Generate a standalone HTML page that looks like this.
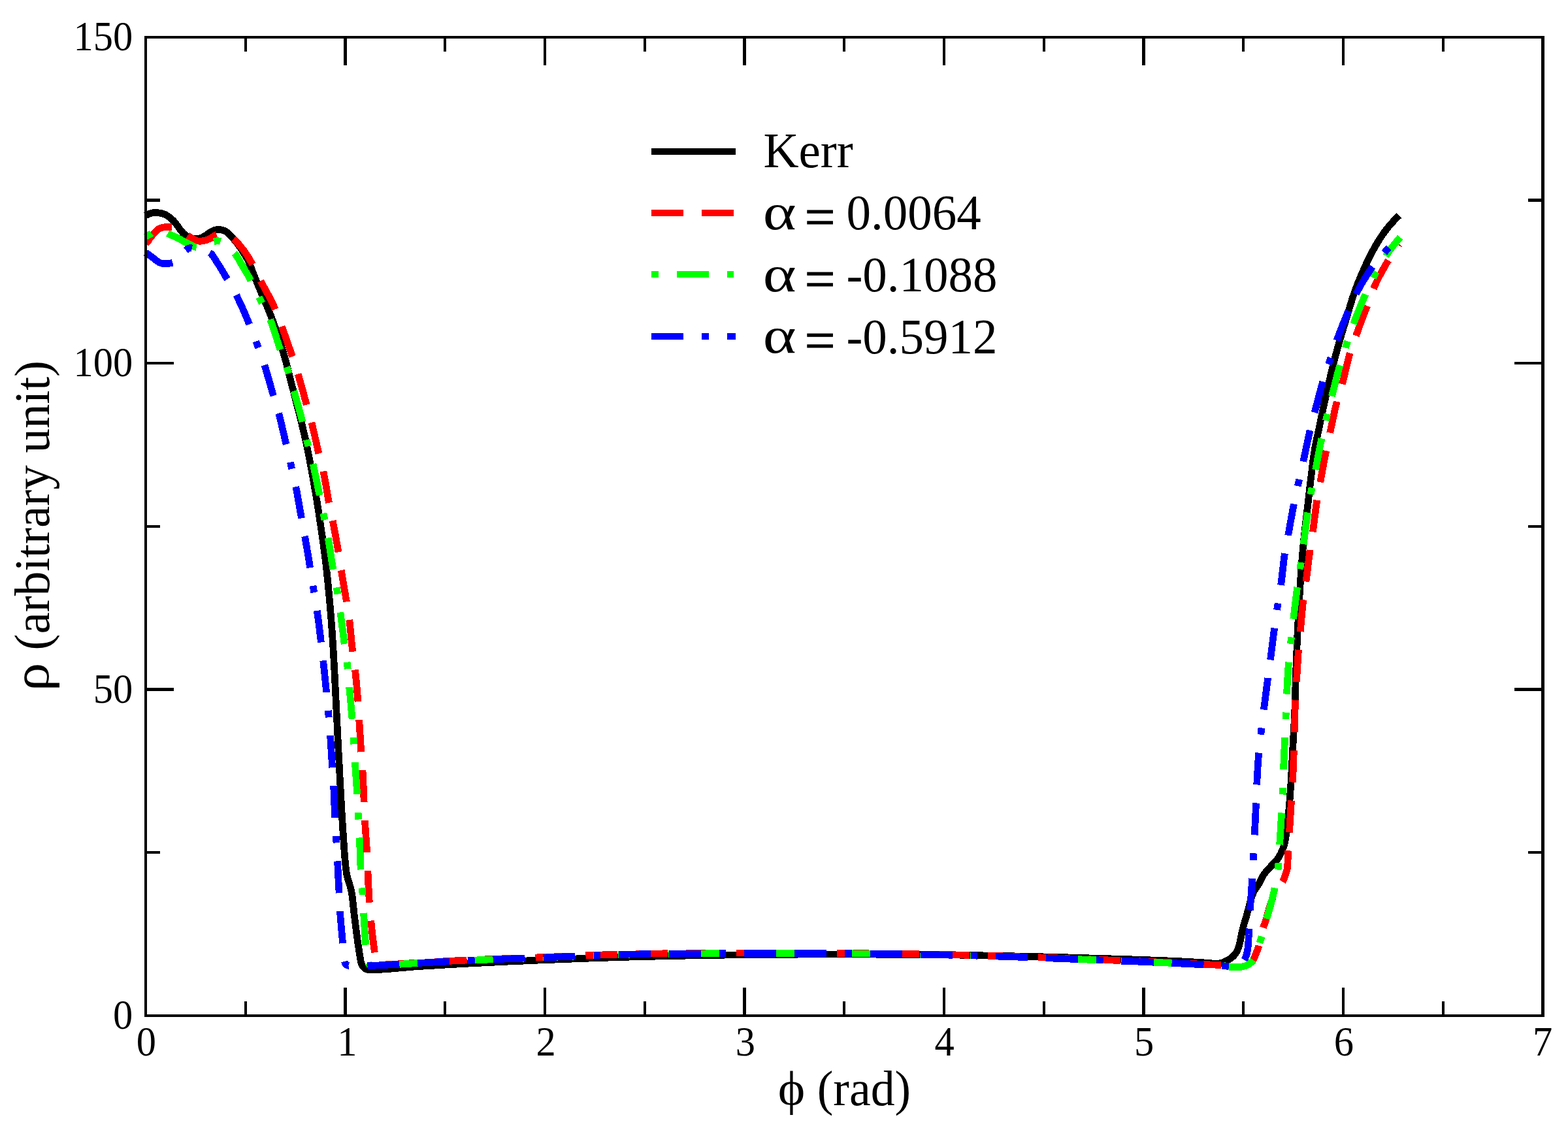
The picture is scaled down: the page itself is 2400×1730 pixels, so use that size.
<!DOCTYPE html>
<html lang="en">
<head>
<meta charset="utf-8">
<title>rho vs phi</title>
<style>
html,body{margin:0;padding:0;background:#fff;}
body{width:2400px;height:1730px;overflow:hidden;font-family:"Liberation Serif",serif;}
svg{display:block;}
</style>
</head>
<body>
<svg width="2400" height="1730" viewBox="0 0 2400 1730" role="img" aria-label="rho versus phi line chart">
<rect x="0" y="0" width="2400" height="1730" fill="#fff"/>
<g fill="none" stroke-linejoin="round" stroke-linecap="butt" shape-rendering="crispEdges" stroke-width="10.7">
<path d="M223.0,330.0 L224.7,329.0 L226.5,328.1 L228.4,327.3 L230.3,326.7 L232.2,326.2 L234.2,325.8 L236.2,325.5 L238.2,325.4 L240.2,325.5 L242.2,325.7 L244.2,326.1 L246.1,326.4 L248.1,326.9 L250.0,327.5 L251.9,328.2 L253.7,329.0 L255.4,329.9 L257.1,331.0 L258.8,332.2 L260.4,333.3 L261.9,334.6 L263.4,336.0 L264.9,337.4 L266.2,338.8 L267.5,340.3 L268.8,341.9 L270.0,343.5 L271.2,345.1 L272.4,346.7 L273.6,348.4 L274.7,350.0 L275.8,351.7 L277.1,353.2 L278.4,354.7 L279.7,356.2 L281.1,357.7 L282.6,359.1 L284.1,360.4 L285.7,361.5 L287.4,362.6 L289.2,363.6 L291.1,364.4 L293.0,364.9 L294.9,365.2 L296.9,365.5 L298.9,365.7 L300.9,365.8 L302.9,365.7 L304.9,365.2 L306.8,364.6 L308.7,363.9 L310.5,363.1 L312.2,362.1 L314.0,361.0 L315.7,360.0 L317.3,358.8 L318.9,357.6 L320.5,356.4 L322.2,355.4 L324.0,354.4 L325.8,353.5 L327.6,352.7 L329.5,352.2 L331.5,351.7 L333.5,351.4 L335.5,351.5 L337.5,351.7 L339.4,352.1 L341.3,352.6 L343.2,353.3 L345.1,354.2 L346.8,355.2 L348.4,356.4 L349.8,357.7 L351.2,359.2 L352.6,360.7 L354.0,362.2 L355.4,363.6 L356.8,365.0 L358.1,366.5 L359.4,368.0 L360.7,369.6 L361.9,371.1 L363.2,372.7 L364.4,374.3 L365.5,375.9 L366.7,377.6 L367.8,379.2 L369.0,380.9 L370.1,382.5 L371.1,384.2 L372.2,385.9 L373.3,387.6 L374.3,389.3 L375.4,391.0 L376.4,392.7 L377.4,394.5 L378.4,396.2 L379.3,398.0 L380.2,399.8 L381.0,401.6 L381.8,403.4 L382.6,405.3 L383.3,407.1 L384.0,409.0 L384.7,410.9 L385.4,412.8 L386.2,414.6 L386.9,416.5 L387.6,418.4 L388.4,420.2 L389.1,422.1 L389.9,423.9 L390.6,425.8 L391.3,427.6 L392.1,429.5 L392.9,431.4 L393.6,433.2 L394.4,435.0 L395.2,436.9 L395.9,438.7 L396.7,440.6 L397.5,442.4 L398.3,444.3 L399.1,446.1 L399.8,448.0 L400.6,449.8 L401.4,451.6 L402.2,453.5 L402.9,455.3 L403.7,457.2 L404.5,459.0 L405.3,460.9 L406.1,462.7 L406.8,464.5 L407.6,466.4 L408.4,468.2 L409.2,470.1 L409.9,471.9 L410.7,473.8 L411.5,475.6 L412.2,477.5 L412.9,479.3 L413.7,481.2 L414.4,483.1 L415.1,484.9 L415.8,486.8 L416.5,488.7 L417.2,490.5 L417.9,492.4 L418.6,494.3 L419.3,496.2 L420.0,498.1 L420.7,499.9 L421.4,501.8 L422.0,503.7 L422.7,505.6 L423.3,507.5 L424.0,509.4 L424.6,511.3 L425.3,513.2 L425.9,515.1 L426.5,517.0 L427.2,518.9 L427.8,520.8 L428.4,522.7 L429.0,524.6 L429.6,526.5 L430.2,528.4 L430.8,530.3 L431.4,532.2 L432.0,534.1 L432.5,536.1 L433.1,538.0 L433.7,539.9 L434.2,541.8 L434.8,543.7 L435.3,545.7 L435.9,547.6 L436.4,549.5 L436.9,551.4 L437.5,553.4 L438.0,555.3 L438.5,557.2 L439.0,559.2 L439.5,561.1 L440.0,563.0 L440.5,565.0 L441.0,566.9 L441.5,568.9 L442.0,570.8 L442.5,572.7 L443.0,574.7 L443.5,576.6 L443.9,578.6 L444.4,580.5 L444.9,582.4 L445.4,584.4 L445.9,586.3 L446.4,588.2 L446.9,590.2 L447.4,592.1 L447.9,594.1 L448.4,596.0 L448.9,597.9 L449.4,599.9 L449.9,601.8 L450.4,603.7 L450.9,605.7 L451.4,607.6 L451.9,609.6 L452.4,611.5 L452.9,613.4 L453.4,615.4 L453.9,617.3 L454.4,619.2 L454.9,621.2 L455.4,623.1 L455.9,625.1 L456.4,627.0 L456.9,628.9 L457.4,630.9 L457.9,632.8 L458.4,634.8 L458.9,636.7 L459.4,638.6 L459.8,640.6 L460.3,642.5 L460.8,644.5 L461.3,646.4 L461.8,648.3 L462.2,650.3 L462.7,652.2 L463.2,654.2 L463.6,656.1 L464.1,658.1 L464.6,660.0 L465.0,662.0 L465.5,663.9 L465.9,665.9 L466.4,667.8 L466.8,669.8 L467.3,671.7 L467.7,673.7 L468.1,675.6 L468.6,677.6 L469.0,679.5 L469.4,681.5 L469.8,683.4 L470.2,685.4 L470.6,687.4 L471.0,689.3 L471.4,691.3 L471.8,693.2 L472.1,695.2 L472.5,697.2 L472.9,699.1 L473.3,701.1 L473.7,703.1 L474.1,705.0 L474.4,707.0 L474.8,709.0 L475.2,710.9 L475.6,712.9 L475.9,714.9 L476.3,716.8 L476.7,718.8 L477.0,720.8 L477.4,722.7 L477.7,724.7 L478.1,726.7 L478.5,728.6 L478.8,730.6 L479.2,732.6 L479.5,734.5 L479.9,736.5 L480.2,738.5 L480.6,740.5 L480.9,742.4 L481.2,744.4 L481.6,746.4 L481.9,748.4 L482.3,750.3 L482.6,752.3 L482.9,754.3 L483.2,756.2 L483.6,758.2 L483.9,760.2 L484.2,762.2 L484.5,764.1 L484.9,766.1 L485.2,768.1 L485.5,770.1 L485.8,772.0 L486.1,774.0 L486.4,776.0 L486.7,778.0 L487.0,779.9 L487.4,781.9 L487.7,783.9 L488.0,785.9 L488.3,787.9 L488.6,789.8 L488.9,791.8 L489.2,793.8 L489.5,795.8 L489.8,797.7 L490.1,799.7 L490.4,801.7 L490.7,803.7 L491.0,805.7 L491.2,807.6 L491.5,809.6 L491.8,811.6 L492.1,813.6 L492.4,815.6 L492.7,817.5 L493.0,819.5 L493.3,821.5 L493.5,823.5 L493.8,825.5 L494.1,827.5 L494.4,829.4 L494.7,831.4 L494.9,833.4 L495.2,835.4 L495.5,837.4 L495.7,839.3 L496.0,841.3 L496.3,843.3 L496.5,845.3 L496.8,847.3 L497.0,849.3 L497.3,851.3 L497.5,853.2 L497.8,855.2 L498.0,857.2 L498.3,859.2 L498.5,861.2 L498.8,863.2 L499.0,865.2 L499.2,867.1 L499.4,869.1 L499.7,871.1 L499.9,873.1 L500.1,875.1 L500.3,877.1 L500.5,879.1 L500.7,881.1 L501.0,883.0 L501.2,885.0 L501.4,887.0 L501.6,889.0 L501.8,891.0 L502.0,893.0 L502.2,895.0 L502.4,897.0 L502.6,899.0 L502.7,901.0 L502.9,902.9 L503.1,904.9 L503.3,906.9 L503.5,908.9 L503.7,910.9 L503.9,912.9 L504.1,914.9 L504.2,916.9 L504.4,918.9 L504.6,920.9 L504.8,922.9 L504.9,924.9 L505.1,926.9 L505.3,928.8 L505.5,930.8 L505.6,932.8 L505.8,934.8 L506.0,936.8 L506.1,938.8 L506.3,940.8 L506.5,942.8 L506.6,944.8 L506.8,946.8 L506.9,948.8 L507.1,950.8 L507.2,952.8 L507.4,954.8 L507.5,956.8 L507.7,958.8 L507.8,960.8 L508.0,962.8 L508.1,964.8 L508.3,966.8 L508.4,968.8 L508.6,970.7 L508.7,972.7 L508.8,974.7 L509.0,976.7 L509.1,978.7 L509.2,980.7 L509.4,982.7 L509.5,984.7 L509.6,986.7 L509.7,988.7 L509.9,990.7 L510.0,992.7 L510.1,994.7 L510.2,996.7 L510.3,998.7 L510.5,1000.7 L510.6,1002.7 L510.7,1004.7 L510.8,1006.7 L510.9,1008.7 L511.0,1010.7 L511.1,1012.7 L511.2,1014.7 L511.3,1016.7 L511.5,1018.7 L511.6,1020.7 L511.7,1022.7 L511.8,1024.7 L511.9,1026.7 L512.0,1028.7 L512.1,1030.7 L512.2,1032.7 L512.3,1034.7 L512.4,1036.7 L512.5,1038.6 L512.6,1040.6 L512.7,1042.6 L512.8,1044.6 L512.9,1046.6 L513.0,1048.6 L513.1,1050.6 L513.2,1052.6 L513.3,1054.6 L513.4,1056.6 L513.5,1058.6 L513.6,1060.6 L513.7,1062.6 L513.8,1064.6 L513.9,1066.6 L514.0,1068.6 L514.1,1070.6 L514.2,1072.6 L514.3,1074.6 L514.4,1076.6 L514.5,1078.6 L514.6,1080.6 L514.7,1082.6 L514.8,1084.6 L514.9,1086.6 L515.0,1088.6 L515.1,1090.6 L515.2,1092.6 L515.3,1094.6 L515.4,1096.6 L515.5,1098.6 L515.6,1100.6 L515.7,1102.6 L515.8,1104.6 L515.9,1106.6 L516.0,1108.6 L516.1,1110.6 L516.2,1112.6 L516.3,1114.6 L516.4,1116.6 L516.5,1118.6 L516.6,1120.6 L516.7,1122.6 L516.8,1124.6 L516.9,1126.6 L517.0,1128.6 L517.1,1130.6 L517.2,1132.6 L517.3,1134.6 L517.4,1136.6 L517.5,1138.6 L517.6,1140.6 L517.7,1142.6 L517.8,1144.6 L517.9,1146.6 L518.0,1148.5 L518.1,1150.5 L518.2,1152.5 L518.3,1154.5 L518.4,1156.5 L518.6,1158.5 L518.7,1160.5 L518.8,1162.5 L518.9,1164.5 L519.0,1166.5 L519.1,1168.5 L519.2,1170.5 L519.3,1172.5 L519.4,1174.5 L519.5,1176.5 L519.6,1178.5 L519.7,1180.5 L519.8,1182.5 L519.9,1184.5 L520.0,1186.5 L520.1,1188.5 L520.2,1190.5 L520.4,1192.5 L520.5,1194.5 L520.6,1196.5 L520.7,1198.5 L520.8,1200.5 L520.9,1202.5 L521.0,1204.5 L521.1,1206.5 L521.2,1208.5 L521.3,1210.5 L521.4,1212.5 L521.5,1214.5 L521.6,1216.5 L521.7,1218.5 L521.9,1220.5 L522.0,1222.5 L522.1,1224.5 L522.2,1226.5 L522.3,1228.5 L522.4,1230.5 L522.5,1232.5 L522.6,1234.5 L522.7,1236.5 L522.8,1238.5 L523.0,1240.5 L523.1,1242.4 L523.2,1244.4 L523.3,1246.4 L523.4,1248.4 L523.5,1250.4 L523.7,1252.4 L523.8,1254.4 L523.9,1256.4 L524.0,1258.4 L524.2,1260.4 L524.3,1262.4 L524.4,1264.4 L524.5,1266.4 L524.7,1268.4 L524.8,1270.4 L524.9,1272.4 L525.1,1274.4 L525.2,1276.4 L525.3,1278.4 L525.5,1280.4 L525.6,1282.4 L525.8,1284.4 L525.9,1286.4 L526.0,1288.4 L526.2,1290.4 L526.3,1292.4 L526.4,1294.4 L526.6,1296.4 L526.7,1298.4 L526.8,1300.4 L527.0,1302.4 L527.1,1304.4 L527.3,1306.4 L527.4,1308.4 L527.6,1310.4 L527.7,1312.4 L527.9,1314.4 L528.1,1316.4 L528.3,1318.4 L528.5,1320.4 L528.6,1322.4 L528.8,1324.4 L529.1,1326.3 L529.3,1328.3 L529.5,1330.3 L529.8,1332.3 L530.0,1334.2 L530.3,1336.2 L530.6,1338.2 L531.0,1340.1 L531.4,1342.0 L531.9,1344.0 L532.5,1345.9 L533.1,1347.8 L533.7,1349.7 L534.3,1351.7 L534.9,1353.6 L535.5,1355.5 L536.1,1357.4 L536.7,1359.4 L537.2,1361.3 L537.6,1363.2 L538.0,1365.2 L538.3,1367.2 L538.6,1369.1 L538.9,1371.1 L539.2,1373.1 L539.4,1375.1 L539.6,1377.0 L539.9,1379.0 L540.1,1381.0 L540.3,1383.0 L540.5,1385.0 L540.7,1387.0 L540.9,1389.0 L541.2,1391.0 L541.4,1393.0 L541.6,1395.0 L541.8,1397.0 L542.0,1399.0 L542.3,1400.9 L542.5,1402.9 L542.8,1404.9 L543.0,1406.9 L543.3,1408.9 L543.5,1410.9 L543.8,1412.9 L544.0,1414.8 L544.3,1416.8 L544.5,1418.8 L544.7,1420.8 L545.0,1422.8 L545.2,1424.8 L545.5,1426.8 L545.7,1428.8 L546.0,1430.7 L546.3,1432.7 L546.5,1434.7 L546.8,1436.7 L547.1,1438.7 L547.3,1440.7 L547.6,1442.6 L547.9,1444.6 L548.2,1446.6 L548.5,1448.6 L548.8,1450.6 L549.1,1452.5 L549.4,1454.5 L549.7,1456.5 L550.0,1458.5 L550.3,1460.4 L550.7,1462.4 L551.0,1464.4 L551.3,1466.4 L551.7,1468.5 L552.0,1470.5 L552.4,1472.5 L552.9,1474.3 L553.5,1476.1 L554.4,1477.9 L555.6,1479.7 L557.0,1481.3 L558.6,1482.7 L560.2,1483.6 L562.0,1484.2 L564.0,1484.6 L566.0,1484.8 L568.0,1484.8 L570.0,1484.8 L572.0,1484.7 L573.9,1484.7 L575.9,1484.6 L577.9,1484.5 L579.9,1484.5 L581.9,1484.4 L583.9,1484.2 L585.9,1484.1 L587.9,1484.0 L589.8,1483.9 L591.8,1483.7 L593.8,1483.6 L595.8,1483.4 L597.8,1483.2 L599.8,1483.1 L601.8,1482.9 L603.8,1482.7 L605.8,1482.6 L607.8,1482.4 L609.8,1482.2 L611.9,1482.0 L613.9,1481.8 L615.9,1481.6 L617.9,1481.4 L619.9,1481.3 L621.9,1481.1 L623.9,1480.9 L625.9,1480.7 L627.9,1480.5 L629.9,1480.4 L631.9,1480.2 L633.9,1480.1 L635.9,1479.9 L637.9,1479.8 L639.9,1479.6 L641.9,1479.5 L643.9,1479.4 L645.9,1479.3 L647.9,1479.1 L649.9,1479.0 L651.9,1478.9 L653.9,1478.8 L655.9,1478.7 L657.9,1478.5 L659.9,1478.4 L661.9,1478.3 L663.9,1478.2 L665.9,1478.1 L667.8,1478.0 L669.8,1477.8 L671.8,1477.7 L673.8,1477.6 L675.8,1477.5 L677.8,1477.4 L679.8,1477.3 L681.8,1477.1 L683.8,1477.0 L685.8,1476.9 L687.8,1476.8 L689.8,1476.7 L691.8,1476.6 L693.8,1476.5 L695.8,1476.3 L697.8,1476.2 L699.8,1476.1 L701.8,1476.0 L703.8,1475.9 L705.8,1475.8 L707.8,1475.7 L709.8,1475.6 L711.8,1475.5 L713.8,1475.4 L715.8,1475.2 L717.8,1475.1 L719.8,1475.0 L721.8,1474.9 L723.8,1474.8 L725.8,1474.7 L727.8,1474.6 L729.8,1474.5 L731.8,1474.4 L733.8,1474.3 L735.8,1474.2 L737.8,1474.1 L739.8,1474.0 L741.8,1473.9 L743.8,1473.8 L745.8,1473.7 L747.8,1473.6 L749.8,1473.5 L751.8,1473.4 L753.8,1473.3 L755.8,1473.2 L757.8,1473.1 L759.7,1473.0 L761.7,1472.9 L763.7,1472.8 L765.7,1472.7 L767.7,1472.6 L769.7,1472.5 L771.7,1472.4 L773.7,1472.3 L775.7,1472.2 L777.7,1472.1 L779.7,1472.0 L781.7,1471.9 L783.7,1471.9 L785.7,1471.8 L787.7,1471.7 L789.7,1471.6 L791.7,1471.5 L793.7,1471.4 L795.7,1471.3 L797.7,1471.2 L799.7,1471.2 L801.7,1471.1 L803.7,1471.0 L805.7,1470.9 L807.7,1470.8 L809.7,1470.7 L811.7,1470.6 L813.7,1470.6 L815.7,1470.5 L817.7,1470.4 L819.7,1470.3 L821.7,1470.2 L823.7,1470.1 L825.7,1470.1 L827.7,1470.0 L829.7,1469.9 L831.7,1469.8 L833.7,1469.7 L835.7,1469.7 L837.7,1469.6 L839.7,1469.5 L841.7,1469.4 L843.7,1469.3 L845.7,1469.3 L847.7,1469.2 L849.7,1469.1 L851.7,1469.0 L853.7,1468.9 L855.7,1468.9 L857.7,1468.8 L859.7,1468.7 L861.7,1468.6 L863.7,1468.5 L865.7,1468.5 L867.7,1468.4 L869.7,1468.3 L871.7,1468.2 L873.7,1468.2 L875.7,1468.1 L877.7,1468.0 L879.7,1467.9 L881.7,1467.9 L883.7,1467.8 L885.7,1467.7 L887.7,1467.6 L889.7,1467.6 L891.7,1467.5 L893.7,1467.4 L895.7,1467.3 L897.7,1467.3 L899.7,1467.2 L901.7,1467.1 L903.7,1467.1 L905.7,1467.0 L907.7,1466.9 L909.7,1466.9 L911.7,1466.8 L913.7,1466.7 L915.7,1466.6 L917.7,1466.6 L919.7,1466.5 L921.7,1466.4 L923.7,1466.4 L925.7,1466.3 L927.7,1466.2 L929.7,1466.2 L931.7,1466.1 L933.7,1466.0 L935.7,1466.0 L937.7,1465.9 L939.7,1465.9 L941.7,1465.8 L943.7,1465.7 L945.7,1465.7 L947.7,1465.6 L949.7,1465.5 L951.7,1465.5 L953.7,1465.4 L955.7,1465.4 L957.7,1465.3 L959.7,1465.3 L961.7,1465.2 L963.7,1465.1 L965.7,1465.1 L967.7,1465.0 L969.7,1465.0 L971.7,1464.9 L973.7,1464.9 L975.7,1464.8 L977.7,1464.8 L979.7,1464.7 L981.7,1464.6 L983.7,1464.6 L985.7,1464.5 L987.7,1464.5 L989.7,1464.4 L991.7,1464.4 L993.7,1464.3 L995.7,1464.3 L997.7,1464.3 L999.7,1464.2 L1001.7,1464.2 L1003.7,1464.1 L1005.7,1464.1 L1007.7,1464.0 L1009.7,1464.0 L1011.7,1463.9 L1013.7,1463.9 L1015.7,1463.8 L1017.7,1463.8 L1019.7,1463.8 L1021.7,1463.7 L1023.7,1463.7 L1025.7,1463.6 L1027.7,1463.6 L1029.7,1463.5 L1031.7,1463.5 L1033.7,1463.5 L1035.7,1463.4 L1037.7,1463.4 L1039.7,1463.3 L1041.7,1463.3 L1043.7,1463.2 L1045.7,1463.2 L1047.7,1463.2 L1049.7,1463.1 L1051.7,1463.1 L1053.7,1463.0 L1055.7,1463.0 L1057.7,1463.0 L1059.7,1462.9 L1061.7,1462.9 L1063.7,1462.9 L1065.7,1462.8 L1067.7,1462.8 L1069.7,1462.8 L1071.7,1462.7 L1073.7,1462.7 L1075.7,1462.6 L1077.7,1462.6 L1079.7,1462.6 L1081.7,1462.5 L1083.7,1462.5 L1085.7,1462.5 L1087.7,1462.5 L1089.7,1462.4 L1091.7,1462.4 L1093.7,1462.4 L1095.7,1462.3 L1097.7,1462.3 L1099.7,1462.3 L1101.7,1462.3 L1103.7,1462.2 L1105.7,1462.2 L1107.7,1462.2 L1109.7,1462.1 L1111.7,1462.1 L1113.7,1462.1 L1115.7,1462.1 L1117.7,1462.1 L1119.7,1462.0 L1121.7,1462.0 L1123.7,1462.0 L1125.7,1462.0 L1127.7,1462.0 L1129.7,1461.9 L1131.7,1461.9 L1133.7,1461.9 L1135.7,1461.9 L1137.7,1461.9 L1139.7,1461.8 L1141.7,1461.8 L1143.7,1461.8 L1145.7,1461.8 L1147.7,1461.8 L1149.7,1461.7 L1151.7,1461.7 L1153.7,1461.7 L1155.7,1461.7 L1157.7,1461.7 L1159.7,1461.6 L1161.7,1461.6 L1163.7,1461.6 L1165.7,1461.6 L1167.7,1461.6 L1169.7,1461.5 L1171.7,1461.5 L1173.7,1461.5 L1175.7,1461.5 L1177.7,1461.5 L1179.7,1461.4 L1181.7,1461.4 L1183.7,1461.4 L1185.7,1461.4 L1187.7,1461.4 L1189.7,1461.4 L1191.7,1461.3 L1193.7,1461.3 L1195.7,1461.3 L1197.7,1461.3 L1199.7,1461.3 L1201.7,1461.3 L1203.7,1461.3 L1205.7,1461.2 L1207.7,1461.2 L1209.7,1461.2 L1211.7,1461.2 L1213.7,1461.2 L1215.7,1461.2 L1217.7,1461.2 L1219.7,1461.2 L1221.7,1461.1 L1223.7,1461.1 L1225.7,1461.1 L1227.7,1461.1 L1229.7,1461.1 L1231.7,1461.1 L1233.7,1461.1 L1235.7,1461.1 L1237.7,1461.1 L1239.7,1461.1 L1241.7,1461.0 L1243.7,1461.0 L1245.7,1461.0 L1247.7,1461.0 L1249.7,1461.0 L1251.7,1461.0 L1253.7,1461.0 L1255.7,1461.0 L1257.7,1461.0 L1259.7,1461.0 L1261.7,1461.0 L1263.7,1461.0 L1265.7,1461.0 L1267.7,1461.0 L1269.7,1461.0 L1271.7,1461.0 L1273.7,1461.0 L1275.7,1461.0 L1277.7,1461.0 L1279.7,1461.0 L1281.7,1461.0 L1283.7,1461.0 L1285.7,1461.0 L1287.7,1461.0 L1289.7,1461.0 L1291.7,1461.0 L1293.7,1461.0 L1295.7,1461.0 L1297.7,1461.0 L1299.7,1461.0 L1301.7,1461.0 L1303.7,1461.0 L1305.7,1461.0 L1307.7,1461.0 L1309.7,1461.1 L1311.7,1461.1 L1313.7,1461.1 L1315.7,1461.1 L1317.7,1461.1 L1319.7,1461.1 L1321.7,1461.1 L1323.7,1461.1 L1325.7,1461.1 L1327.7,1461.1 L1329.7,1461.1 L1331.7,1461.1 L1333.7,1461.1 L1335.7,1461.1 L1337.7,1461.1 L1339.7,1461.1 L1341.7,1461.2 L1343.7,1461.2 L1345.7,1461.2 L1347.7,1461.2 L1349.7,1461.2 L1351.7,1461.2 L1353.7,1461.2 L1355.8,1461.2 L1357.8,1461.2 L1359.8,1461.2 L1361.8,1461.2 L1363.8,1461.2 L1365.8,1461.3 L1367.8,1461.3 L1369.8,1461.3 L1371.8,1461.3 L1373.8,1461.3 L1375.8,1461.3 L1377.8,1461.3 L1379.8,1461.3 L1381.8,1461.3 L1383.8,1461.3 L1385.8,1461.4 L1387.8,1461.4 L1389.8,1461.4 L1391.8,1461.4 L1393.8,1461.4 L1395.8,1461.4 L1397.8,1461.4 L1399.8,1461.4 L1401.8,1461.4 L1403.8,1461.5 L1405.8,1461.5 L1407.8,1461.5 L1409.8,1461.5 L1411.8,1461.5 L1413.8,1461.5 L1415.8,1461.5 L1417.8,1461.5 L1419.8,1461.6 L1421.8,1461.6 L1423.8,1461.6 L1425.8,1461.6 L1427.8,1461.6 L1429.8,1461.6 L1431.8,1461.7 L1433.8,1461.7 L1435.8,1461.7 L1437.8,1461.7 L1439.8,1461.7 L1441.8,1461.8 L1443.8,1461.8 L1445.8,1461.8 L1447.8,1461.8 L1449.8,1461.9 L1451.8,1461.9 L1453.8,1461.9 L1455.8,1462.0 L1457.8,1462.0 L1459.8,1462.0 L1461.8,1462.1 L1463.8,1462.1 L1465.8,1462.1 L1467.8,1462.1 L1469.8,1462.2 L1471.8,1462.2 L1473.8,1462.3 L1475.8,1462.3 L1477.8,1462.3 L1479.8,1462.4 L1481.8,1462.4 L1483.8,1462.4 L1485.8,1462.5 L1487.8,1462.5 L1489.8,1462.5 L1491.8,1462.6 L1493.8,1462.6 L1495.8,1462.7 L1497.8,1462.7 L1499.8,1462.7 L1501.8,1462.8 L1503.8,1462.8 L1505.8,1462.9 L1507.8,1462.9 L1509.8,1462.9 L1511.8,1463.0 L1513.8,1463.0 L1515.8,1463.1 L1517.8,1463.1 L1519.8,1463.1 L1521.8,1463.2 L1523.8,1463.2 L1525.8,1463.3 L1527.8,1463.3 L1529.8,1463.4 L1531.8,1463.4 L1533.8,1463.4 L1535.8,1463.5 L1537.8,1463.5 L1539.8,1463.6 L1541.8,1463.6 L1543.8,1463.7 L1545.8,1463.7 L1547.8,1463.7 L1549.8,1463.8 L1551.8,1463.8 L1553.8,1463.9 L1555.8,1463.9 L1557.8,1464.0 L1559.8,1464.0 L1561.8,1464.0 L1563.8,1464.1 L1565.8,1464.1 L1567.8,1464.2 L1569.8,1464.2 L1571.8,1464.3 L1573.8,1464.3 L1575.8,1464.3 L1577.8,1464.4 L1579.8,1464.4 L1581.8,1464.5 L1583.8,1464.5 L1585.8,1464.6 L1587.8,1464.6 L1589.8,1464.7 L1591.8,1464.7 L1593.8,1464.8 L1595.8,1464.8 L1597.8,1464.9 L1599.8,1464.9 L1601.8,1465.0 L1603.8,1465.0 L1605.8,1465.1 L1607.8,1465.1 L1609.8,1465.2 L1611.8,1465.2 L1613.8,1465.3 L1615.8,1465.3 L1617.8,1465.4 L1619.8,1465.4 L1621.8,1465.5 L1623.8,1465.6 L1625.8,1465.6 L1627.8,1465.7 L1629.8,1465.7 L1631.8,1465.8 L1633.8,1465.8 L1635.8,1465.9 L1637.8,1465.9 L1639.8,1466.0 L1641.8,1466.1 L1643.8,1466.1 L1645.8,1466.2 L1647.8,1466.2 L1649.8,1466.3 L1651.8,1466.4 L1653.8,1466.4 L1655.8,1466.5 L1657.8,1466.5 L1659.8,1466.6 L1661.8,1466.7 L1663.8,1466.7 L1665.8,1466.8 L1667.8,1466.9 L1669.8,1466.9 L1671.8,1467.0 L1673.8,1467.0 L1675.8,1467.1 L1677.8,1467.2 L1679.8,1467.2 L1681.8,1467.3 L1683.8,1467.3 L1685.8,1467.4 L1687.8,1467.5 L1689.8,1467.5 L1691.8,1467.6 L1693.8,1467.7 L1695.8,1467.7 L1697.8,1467.8 L1699.8,1467.8 L1701.8,1467.9 L1703.8,1468.0 L1705.8,1468.0 L1707.8,1468.1 L1709.8,1468.1 L1711.8,1468.2 L1713.8,1468.3 L1715.8,1468.3 L1717.8,1468.4 L1719.8,1468.4 L1721.8,1468.5 L1723.8,1468.6 L1725.8,1468.6 L1727.8,1468.7 L1729.8,1468.8 L1731.8,1468.8 L1733.8,1468.9 L1735.8,1468.9 L1737.8,1469.0 L1739.8,1469.1 L1741.8,1469.1 L1743.8,1469.2 L1745.8,1469.3 L1747.8,1469.4 L1749.8,1469.4 L1751.8,1469.5 L1753.8,1469.6 L1755.8,1469.6 L1757.8,1469.7 L1759.8,1469.8 L1761.8,1469.9 L1763.8,1469.9 L1765.8,1470.0 L1767.8,1470.1 L1769.8,1470.2 L1771.8,1470.2 L1773.8,1470.3 L1775.8,1470.4 L1777.8,1470.5 L1779.8,1470.6 L1781.8,1470.6 L1783.8,1470.7 L1785.8,1470.8 L1787.8,1470.9 L1789.8,1471.0 L1791.8,1471.1 L1793.8,1471.2 L1795.8,1471.3 L1797.8,1471.3 L1799.8,1471.4 L1801.8,1471.5 L1803.8,1471.6 L1805.8,1471.7 L1807.8,1471.8 L1809.8,1471.9 L1811.8,1472.0 L1813.8,1472.1 L1815.8,1472.3 L1817.8,1472.4 L1819.8,1472.5 L1821.8,1472.6 L1823.8,1472.7 L1825.8,1472.8 L1827.8,1472.9 L1829.8,1473.0 L1831.8,1473.2 L1833.7,1473.3 L1835.7,1473.4 L1837.7,1473.5 L1839.7,1473.7 L1841.7,1473.8 L1843.7,1473.9 L1845.7,1474.0 L1847.7,1474.2 L1849.7,1474.3 L1851.7,1474.5 L1853.7,1474.7 L1855.7,1475.0 L1857.7,1475.3 L1859.6,1475.5 L1861.6,1475.5 L1863.6,1475.3 L1865.6,1475.0 L1867.6,1474.6 L1869.5,1474.1 L1871.4,1473.6 L1873.3,1472.9 L1875.2,1472.0 L1877.0,1471.1 L1878.7,1470.2 L1880.5,1469.2 L1882.2,1468.2 L1883.9,1467.0 L1885.5,1465.8 L1887.0,1464.5 L1888.4,1463.1 L1889.7,1461.6 L1891.0,1460.0 L1892.1,1458.3 L1893.1,1456.6 L1893.9,1454.9 L1894.7,1453.0 L1895.4,1451.1 L1896.1,1449.2 L1896.7,1447.3 L1897.2,1445.3 L1897.7,1443.4 L1898.1,1441.5 L1898.5,1439.5 L1898.9,1437.5 L1899.3,1435.6 L1899.6,1433.6 L1900.0,1431.6 L1900.5,1429.7 L1900.9,1427.7 L1901.4,1425.8 L1901.8,1423.8 L1902.3,1421.9 L1902.8,1419.9 L1903.3,1418.0 L1903.8,1416.1 L1904.3,1414.1 L1904.9,1412.2 L1905.5,1410.3 L1906.1,1408.4 L1906.7,1406.5 L1907.3,1404.6 L1907.8,1402.7 L1908.4,1400.7 L1908.9,1398.8 L1909.4,1396.9 L1909.9,1394.9 L1910.4,1393.0 L1910.9,1391.0 L1911.4,1389.1 L1911.9,1387.2 L1912.4,1385.2 L1913.0,1383.3 L1913.5,1381.4 L1914.1,1379.4 L1914.6,1377.5 L1915.2,1375.6 L1915.8,1373.6 L1916.4,1371.7 L1917.1,1369.8 L1917.8,1368.0 L1918.6,1366.2 L1919.4,1364.4 L1920.3,1362.7 L1921.4,1361.0 L1922.6,1359.4 L1923.8,1357.7 L1925.0,1356.1 L1926.1,1354.4 L1927.2,1352.7 L1928.1,1351.0 L1929.0,1349.2 L1929.9,1347.3 L1930.7,1345.5 L1931.6,1343.7 L1932.5,1341.9 L1933.5,1340.2 L1934.6,1338.6 L1935.8,1337.0 L1937.0,1335.5 L1938.4,1333.9 L1939.7,1332.4 L1941.1,1331.0 L1942.4,1329.5 L1943.8,1328.0 L1945.1,1326.5 L1946.5,1325.0 L1947.9,1323.6 L1949.3,1322.1 L1950.7,1320.7 L1952.1,1319.2 L1953.4,1317.7 L1954.6,1316.2 L1955.8,1314.6 L1956.9,1312.9 L1957.9,1311.2 L1958.9,1309.4 L1959.9,1307.7 L1960.8,1305.9 L1961.6,1304.0 L1962.4,1302.2 L1963.2,1300.4 L1963.9,1298.5 L1964.6,1296.6 L1965.3,1294.7 L1965.9,1292.8 L1966.3,1290.8 L1966.7,1288.9 L1967.1,1287.0 L1967.4,1285.0 L1967.7,1283.1 L1968.1,1281.1 L1968.4,1279.2 L1968.7,1277.2 L1969.0,1275.2 L1969.3,1273.3 L1969.5,1271.3 L1969.8,1269.3 L1970.0,1267.3 L1970.3,1265.4 L1970.5,1263.4 L1970.8,1261.4 L1971.0,1259.4 L1971.2,1257.4 L1971.4,1255.4 L1971.6,1253.4 L1971.8,1251.4 L1972.0,1249.4 L1972.2,1247.4 L1972.4,1245.4 L1972.6,1243.4 L1972.7,1241.4 L1972.9,1239.3 L1973.1,1237.3 L1973.2,1235.3 L1973.4,1233.3 L1973.6,1231.3 L1973.7,1229.3 L1973.9,1227.3 L1974.0,1225.3 L1974.2,1223.3 L1974.3,1221.3 L1974.5,1219.3 L1974.6,1217.3 L1974.8,1215.3 L1974.9,1213.3 L1975.1,1211.3 L1975.2,1209.3 L1975.4,1207.3 L1975.5,1205.3 L1975.6,1203.3 L1975.8,1201.3 L1975.9,1199.4 L1976.0,1197.4 L1976.1,1195.4 L1976.3,1193.4 L1976.4,1191.4 L1976.5,1189.4 L1976.6,1187.4 L1976.7,1185.4 L1976.8,1183.4 L1976.9,1181.4 L1977.1,1179.4 L1977.2,1177.4 L1977.3,1175.4 L1977.4,1173.4 L1977.5,1171.4 L1977.6,1169.4 L1977.7,1167.4 L1977.8,1165.4 L1977.9,1163.4 L1978.0,1161.4 L1978.1,1159.4 L1978.2,1157.4 L1978.3,1155.4 L1978.4,1153.4 L1978.5,1151.4 L1978.6,1149.4 L1978.7,1147.4 L1978.8,1145.4 L1978.9,1143.4 L1979.0,1141.4 L1979.1,1139.4 L1979.2,1137.4 L1979.3,1135.4 L1979.4,1133.4 L1979.5,1131.4 L1979.7,1129.4 L1979.8,1127.4 L1979.9,1125.4 L1980.0,1123.4 L1980.1,1121.4 L1980.2,1119.4 L1980.3,1117.4 L1980.4,1115.4 L1980.6,1113.4 L1980.7,1111.4 L1980.8,1109.4 L1980.9,1107.4 L1981.0,1105.4 L1981.1,1103.5 L1981.2,1101.5 L1981.3,1099.5 L1981.4,1097.5 L1981.5,1095.5 L1981.6,1093.5 L1981.6,1091.5 L1981.7,1089.5 L1981.8,1087.5 L1981.9,1085.5 L1981.9,1083.5 L1982.0,1081.5 L1982.0,1079.5 L1982.1,1077.5 L1982.2,1075.5 L1982.2,1073.5 L1982.3,1071.5 L1982.3,1069.5 L1982.4,1067.5 L1982.4,1065.5 L1982.5,1063.5 L1982.5,1061.5 L1982.6,1059.5 L1982.7,1057.5 L1982.7,1055.5 L1982.8,1053.5 L1982.9,1051.5 L1982.9,1049.5 L1983.0,1047.5 L1983.0,1045.5 L1983.1,1043.5 L1983.2,1041.5 L1983.2,1039.5 L1983.3,1037.5 L1983.4,1035.5 L1983.5,1033.5 L1983.5,1031.5 L1983.6,1029.5 L1983.7,1027.5 L1983.7,1025.5 L1983.8,1023.5 L1983.9,1021.5 L1983.9,1019.5 L1984.0,1017.5 L1984.1,1015.5 L1984.2,1013.5 L1984.2,1011.5 L1984.3,1009.5 L1984.4,1007.5 L1984.5,1005.5 L1984.5,1003.5 L1984.6,1001.5 L1984.7,999.5 L1984.8,997.5 L1984.9,995.5 L1984.9,993.5 L1985.0,991.5 L1985.1,989.5 L1985.2,987.5 L1985.3,985.5 L1985.4,983.5 L1985.4,981.5 L1985.5,979.5 L1985.6,977.5 L1985.7,975.5 L1985.8,973.5 L1985.9,971.5 L1986.0,969.5 L1986.1,967.5 L1986.2,965.5 L1986.3,963.5 L1986.4,961.5 L1986.5,959.5 L1986.6,957.5 L1986.7,955.5 L1986.8,953.5 L1986.9,951.5 L1987.0,949.5 L1987.1,947.5 L1987.2,945.5 L1987.3,943.5 L1987.4,941.5 L1987.5,939.5 L1987.6,937.5 L1987.7,935.5 L1987.8,933.5 L1988.0,931.5 L1988.1,929.5 L1988.2,927.5 L1988.3,925.5 L1988.4,923.5 L1988.5,921.6 L1988.7,919.6 L1988.8,917.6 L1988.9,915.6 L1989.0,913.6 L1989.1,911.6 L1989.3,909.6 L1989.4,907.6 L1989.5,905.6 L1989.6,903.6 L1989.8,901.6 L1989.9,899.6 L1990.0,897.6 L1990.1,895.6 L1990.3,893.6 L1990.4,891.6 L1990.5,889.6 L1990.7,887.6 L1990.8,885.6 L1990.9,883.6 L1991.1,881.6 L1991.2,879.6 L1991.3,877.6 L1991.5,875.6 L1991.6,873.6 L1991.8,871.6 L1991.9,869.6 L1992.1,867.6 L1992.2,865.7 L1992.3,863.7 L1992.5,861.7 L1992.7,859.7 L1992.8,857.7 L1993.0,855.7 L1993.1,853.7 L1993.3,851.7 L1993.5,849.7 L1993.6,847.7 L1993.8,845.7 L1994.0,843.7 L1994.1,841.7 L1994.3,839.7 L1994.5,837.7 L1994.7,835.8 L1994.9,833.8 L1995.1,831.8 L1995.3,829.8 L1995.5,827.8 L1995.7,825.8 L1995.9,823.8 L1996.1,821.8 L1996.3,819.8 L1996.5,817.8 L1996.8,815.9 L1997.0,813.9 L1997.2,811.9 L1997.4,809.9 L1997.7,807.9 L1997.9,805.9 L1998.1,803.9 L1998.4,801.9 L1998.6,800.0 L1998.8,798.0 L1999.1,796.0 L1999.3,794.0 L1999.5,792.0 L1999.8,790.0 L2000.0,788.0 L2000.2,786.0 L2000.5,784.1 L2000.7,782.1 L2000.9,780.1 L2001.2,778.1 L2001.4,776.1 L2001.6,774.1 L2001.9,772.1 L2002.1,770.1 L2002.3,768.2 L2002.5,766.2 L2002.8,764.2 L2003.0,762.2 L2003.2,760.2 L2003.5,758.2 L2003.7,756.2 L2003.9,754.2 L2004.1,752.3 L2004.4,750.3 L2004.6,748.3 L2004.8,746.3 L2005.0,744.3 L2005.3,742.3 L2005.5,740.3 L2005.7,738.3 L2006.0,736.4 L2006.2,734.4 L2006.5,732.4 L2006.7,730.4 L2006.9,728.4 L2007.2,726.4 L2007.4,724.4 L2007.7,722.5 L2007.9,720.5 L2008.2,718.5 L2008.4,716.5 L2008.6,714.5 L2008.9,712.5 L2009.1,710.5 L2009.4,708.5 L2009.6,706.6 L2009.9,704.6 L2010.2,702.6 L2010.4,700.6 L2010.7,698.6 L2011.0,696.6 L2011.3,694.7 L2011.6,692.7 L2011.9,690.7 L2012.2,688.7 L2012.5,686.8 L2012.9,684.8 L2013.2,682.8 L2013.6,680.9 L2014.0,678.9 L2014.4,677.0 L2014.8,675.0 L2015.2,673.0 L2015.6,671.1 L2016.0,669.1 L2016.5,667.2 L2016.9,665.2 L2017.3,663.2 L2017.7,661.3 L2018.2,659.3 L2018.6,657.4 L2019.0,655.4 L2019.4,653.5 L2019.8,651.5 L2020.2,649.5 L2020.6,647.6 L2021.0,645.6 L2021.4,643.7 L2021.8,641.7 L2022.2,639.7 L2022.6,637.8 L2023.0,635.8 L2023.5,633.9 L2023.9,631.9 L2024.3,630.0 L2024.7,628.0 L2025.1,626.0 L2025.5,624.1 L2025.9,622.1 L2026.4,620.2 L2026.8,618.2 L2027.2,616.3 L2027.7,614.3 L2028.1,612.4 L2028.5,610.4 L2029.0,608.5 L2029.4,606.5 L2029.8,604.5 L2030.3,602.6 L2030.7,600.6 L2031.2,598.7 L2031.6,596.7 L2032.0,594.8 L2032.5,592.8 L2032.9,590.9 L2033.4,588.9 L2033.8,587.0 L2034.3,585.0 L2034.7,583.1 L2035.2,581.1 L2035.7,579.2 L2036.1,577.2 L2036.6,575.3 L2037.0,573.3 L2037.5,571.4 L2038.0,569.5 L2038.4,567.5 L2038.9,565.6 L2039.4,563.6 L2039.9,561.7 L2040.4,559.7 L2040.8,557.8 L2041.3,555.9 L2041.8,553.9 L2042.3,552.0 L2042.8,550.0 L2043.3,548.1 L2043.8,546.2 L2044.3,544.2 L2044.8,542.3 L2045.3,540.4 L2045.8,538.4 L2046.3,536.5 L2046.9,534.6 L2047.4,532.6 L2047.9,530.7 L2048.5,528.8 L2049.0,526.9 L2049.6,524.9 L2050.1,523.0 L2050.7,521.1 L2051.2,519.2 L2051.8,517.3 L2052.4,515.3 L2052.9,513.4 L2053.5,511.5 L2054.1,509.6 L2054.7,507.7 L2055.2,505.8 L2055.8,503.8 L2056.4,501.9 L2057.0,500.0 L2057.6,498.1 L2058.1,496.2 L2058.7,494.3 L2059.3,492.3 L2059.9,490.4 L2060.4,488.5 L2061.0,486.6 L2061.6,484.7 L2062.2,482.8 L2062.7,480.8 L2063.3,478.9 L2063.9,477.0 L2064.4,475.1 L2065.0,473.2 L2065.6,471.2 L2066.1,469.3 L2066.7,467.4 L2067.3,465.5 L2067.9,463.6 L2068.5,461.7 L2069.1,459.8 L2069.7,457.8 L2070.3,455.9 L2070.9,454.0 L2071.6,452.2 L2072.2,450.3 L2072.9,448.4 L2073.5,446.5 L2074.2,444.6 L2074.9,442.7 L2075.6,440.9 L2076.3,439.0 L2077.0,437.1 L2077.8,435.3 L2078.5,433.4 L2079.3,431.6 L2080.0,429.7 L2080.8,427.8 L2081.6,426.0 L2082.3,424.2 L2083.1,422.3 L2083.9,420.5 L2084.7,418.6 L2085.5,416.8 L2086.3,415.0 L2087.1,413.1 L2087.9,411.3 L2088.7,409.5 L2089.5,407.6 L2090.4,405.8 L2091.2,404.0 L2092.0,402.2 L2092.9,400.4 L2093.8,398.6 L2094.6,396.8 L2095.5,395.0 L2096.4,393.2 L2097.3,391.4 L2098.2,389.6 L2099.1,387.8 L2100.1,386.1 L2101.0,384.3 L2102.0,382.5 L2102.9,380.8 L2103.9,379.0 L2104.9,377.3 L2105.9,375.6 L2106.9,373.8 L2108.0,372.1 L2109.0,370.4 L2110.0,368.7 L2111.1,367.0 L2112.2,365.3 L2113.3,363.7 L2114.4,362.0 L2115.5,360.3 L2116.6,358.7 L2117.8,357.0 L2118.9,355.4 L2120.1,353.8 L2121.3,352.2 L2122.5,350.6 L2123.8,349.0 L2125.0,347.5 L2126.3,346.0 L2127.6,344.5 L2128.9,342.9 L2130.2,341.5 L2131.6,340.0 L2132.9,338.5 L2134.3,337.1 L2135.7,335.6 L2137.1,334.2 L2138.6,332.8 L2140.0,331.4 L2141.5,330.0" stroke="#000"/>
<path d="M223.0,372.5 L224.8,371.5 L226.1,370.1 L227.2,368.4 L228.2,366.7 L229.4,365.0 L230.6,363.4 L231.9,361.9 L233.1,360.3 L234.4,358.8 L235.7,357.2 L237.0,355.7 L238.3,354.3 L239.8,352.8 L241.3,351.5 L243.0,350.4 L244.8,349.6 L246.7,348.9 L248.6,348.4 L250.6,347.9 L252.5,347.7 L254.5,347.6 L256.5,347.6 L258.6,347.5 L260.6,347.5 L262.5,347.5 L264.5,347.8 L266.5,348.3 L268.4,348.9 L270.3,349.6 L272.1,350.4 L273.8,351.4 L275.6,352.4 L277.3,353.5 L278.9,354.6 L280.6,355.7 L282.2,356.9 L283.8,358.1 L285.5,359.2 L287.1,360.4 L288.7,361.6 L290.3,362.8 L292.0,363.8 L293.7,364.9 L295.5,365.8 L297.3,366.6 L299.2,367.5 L301.0,368.3 L303.0,369.0 L304.9,369.3 L306.9,369.2 L308.9,369.0 L310.9,368.7 L312.8,368.3 L314.8,367.9 L316.7,367.3 L318.6,366.5 L320.4,365.7 L322.2,364.9 L323.9,363.9 L325.6,362.8 L327.3,361.7 L329.0,360.6 L330.7,359.7 L332.6,358.9 L334.6,358.3 L336.5,358.0 L338.5,358.0 L340.5,358.1 L342.6,358.3 L344.5,358.6 L346.4,359.2 L348.2,360.1 L350.0,361.0 L351.8,362.0 L353.5,363.0 L355.2,364.1 L356.7,365.3 L358.3,366.6 L359.7,367.9 L361.2,369.3 L362.6,370.7 L363.9,372.2 L365.3,373.7 L366.6,375.3 L367.9,376.8 L369.2,378.4 L370.4,380.0 L371.6,381.5 L372.8,383.1 L374.0,384.7 L375.2,386.3 L376.3,388.0 L377.4,389.7 L378.5,391.3 L379.6,393.0 L380.6,394.7 L381.7,396.5 L382.7,398.2 L383.7,399.9 L384.7,401.6 L385.7,403.4 L386.7,405.1 L387.6,406.9 L388.6,408.6 L389.5,410.4 L390.4,412.2 L391.3,414.0 L392.1,415.8 L393.0,417.6 L393.9,419.4 L394.8,421.2 L395.6,423.0 L396.5,424.8 L397.4,426.6 L398.3,428.4 L399.2,430.2 L400.1,432.0 L401.0,433.8 L401.9,435.5 L402.9,437.3 L403.8,439.1 L404.7,440.8 L405.7,442.6 L406.7,444.4 L407.6,446.1 L408.6,447.9 L409.5,449.7 L410.5,451.4 L411.4,453.2 L412.3,455.0 L413.3,456.7 L414.2,458.5 L415.1,460.3 L416.0,462.1 L416.9,463.9 L417.7,465.7 L418.6,467.5 L419.4,469.3 L420.2,471.1 L421.0,472.9 L421.8,474.8 L422.6,476.6 L423.3,478.5 L424.0,480.3 L424.8,482.2 L425.5,484.1 L426.2,485.9 L426.9,487.8 L427.6,489.7 L428.3,491.6 L428.9,493.5 L429.6,495.3 L430.3,497.2 L431.0,499.1 L431.7,501.0 L432.4,502.9 L433.1,504.7 L433.8,506.6 L434.4,508.5 L435.1,510.4 L435.8,512.3 L436.5,514.2 L437.1,516.0 L437.8,517.9 L438.5,519.8 L439.1,521.7 L439.8,523.6 L440.4,525.5 L441.1,527.4 L441.8,529.3 L442.4,531.1 L443.1,533.0 L443.7,534.9 L444.4,536.8 L445.0,538.7 L445.6,540.6 L446.3,542.5 L446.9,544.4 L447.6,546.3 L448.2,548.2 L448.8,550.1 L449.5,552.0 L450.1,553.9 L450.7,555.8 L451.4,557.7 L452.0,559.6 L452.6,561.5 L453.2,563.4 L453.8,565.3 L454.4,567.2 L455.0,569.1 L455.6,571.0 L456.2,572.9 L456.8,574.8 L457.4,576.8 L457.9,578.7 L458.5,580.6 L459.0,582.5 L459.6,584.4 L460.1,586.4 L460.7,588.3 L461.2,590.2 L461.8,592.1 L462.3,594.1 L462.8,596.0 L463.4,597.9 L463.9,599.9 L464.4,601.8 L464.9,603.7 L465.5,605.6 L466.0,607.6 L466.5,609.5 L467.0,611.4 L467.6,613.4 L468.1,615.3 L468.6,617.2 L469.2,619.1 L469.7,621.1 L470.3,623.0 L470.8,624.9 L471.4,626.8 L471.9,628.8 L472.5,630.7 L473.0,632.6 L473.6,634.5 L474.1,636.5 L474.6,638.4 L475.2,640.3 L475.7,642.3 L476.2,644.2 L476.7,646.1 L477.2,648.1 L477.7,650.0 L478.2,651.9 L478.6,653.9 L479.1,655.8 L479.5,657.8 L480.0,659.7 L480.4,661.7 L480.9,663.6 L481.3,665.6 L481.8,667.5 L482.2,669.5 L482.6,671.4 L483.1,673.4 L483.5,675.3 L484.0,677.3 L484.4,679.2 L484.8,681.2 L485.3,683.1 L485.7,685.1 L486.2,687.0 L486.6,689.0 L487.1,690.9 L487.6,692.9 L488.1,694.8 L488.5,696.8 L489.0,698.7 L489.6,700.6 L490.1,702.6 L490.6,704.5 L491.1,706.4 L491.6,708.4 L492.1,710.3 L492.7,712.2 L493.1,714.2 L493.6,716.1 L494.1,718.1 L494.5,720.0 L494.9,722.0 L495.4,723.9 L495.7,725.9 L496.1,727.8 L496.5,729.8 L496.9,731.8 L497.2,733.7 L497.6,735.7 L497.9,737.7 L498.3,739.6 L498.6,741.6 L499.0,743.6 L499.3,745.6 L499.6,747.5 L500.0,749.5 L500.3,751.5 L500.6,753.4 L501.0,755.4 L501.3,757.4 L501.6,759.4 L502.0,761.3 L502.3,763.3 L502.7,765.3 L503.1,767.2 L503.4,769.2 L503.8,771.2 L504.2,773.1 L504.6,775.1 L505.0,777.0 L505.4,779.0 L505.9,781.0 L506.3,782.9 L506.7,784.9 L507.1,786.8 L507.5,788.8 L507.9,790.7 L508.3,792.7 L508.7,794.7 L509.1,796.6 L509.5,798.6 L509.9,800.6 L510.2,802.5 L510.6,804.5 L511.0,806.5 L511.4,808.4 L511.7,810.4 L512.1,812.3 L512.5,814.3 L512.8,816.3 L513.2,818.2 L513.6,820.2 L513.9,822.2 L514.3,824.2 L514.6,826.1 L515.0,828.1 L515.3,830.1 L515.7,832.0 L516.0,834.0 L516.4,836.0 L516.7,837.9 L517.1,839.9 L517.4,841.9 L517.7,843.9 L518.1,845.8 L518.4,847.8 L518.7,849.8 L519.0,851.8 L519.3,853.7 L519.6,855.7 L519.9,857.7 L520.2,859.7 L520.5,861.6 L520.8,863.6 L521.1,865.6 L521.4,867.6 L521.7,869.5 L522.0,871.5 L522.4,873.5 L522.7,875.5 L523.0,877.4 L523.3,879.4 L523.7,881.4 L524.0,883.4 L524.3,885.3 L524.7,887.3 L525.0,889.3 L525.3,891.3 L525.7,893.2 L526.0,895.2 L526.3,897.2 L526.7,899.1 L527.0,901.1 L527.3,903.1 L527.7,905.1 L528.0,907.0 L528.4,909.0 L528.7,911.0 L529.0,912.9 L529.3,914.9 L529.7,916.9 L530.0,918.9 L530.3,920.8 L530.6,922.8 L531.0,924.8 L531.3,926.8 L531.6,928.7 L531.9,930.7 L532.3,932.7 L532.6,934.7 L532.9,936.6 L533.2,938.6 L533.5,940.6 L533.8,942.6 L534.1,944.5 L534.4,946.5 L534.6,948.5 L534.9,950.5 L535.1,952.5 L535.4,954.5 L535.6,956.4 L535.8,958.4 L536.0,960.4 L536.2,962.4 L536.4,964.4 L536.6,966.4 L536.8,968.4 L537.0,970.4 L537.2,972.4 L537.4,974.4 L537.6,976.4 L537.7,978.3 L537.9,980.3 L538.1,982.3 L538.3,984.3 L538.5,986.3 L538.7,988.3 L538.9,990.3 L539.1,992.3 L539.4,994.3 L539.6,996.3 L539.8,998.2 L540.1,1000.2 L540.3,1002.2 L540.6,1004.2 L540.9,1006.2 L541.2,1008.2 L541.5,1010.1 L541.7,1012.1 L542.0,1014.1 L542.3,1016.1 L542.6,1018.1 L542.8,1020.0 L543.1,1022.0 L543.3,1024.0 L543.6,1026.0 L543.8,1028.0 L544.0,1030.0 L544.2,1032.0 L544.4,1033.9 L544.6,1035.9 L544.8,1037.9 L545.0,1039.9 L545.2,1041.9 L545.4,1043.9 L545.6,1045.9 L545.8,1047.9 L545.9,1049.9 L546.1,1051.9 L546.3,1053.9 L546.5,1055.9 L546.6,1057.8 L546.8,1059.8 L547.0,1061.8 L547.1,1063.8 L547.3,1065.8 L547.5,1067.8 L547.6,1069.8 L547.8,1071.8 L547.9,1073.8 L548.1,1075.8 L548.2,1077.8 L548.3,1079.8 L548.5,1081.8 L548.6,1083.8 L548.7,1085.8 L548.8,1087.8 L549.0,1089.8 L549.1,1091.8 L549.2,1093.8 L549.3,1095.8 L549.4,1097.8 L549.6,1099.8 L549.7,1101.7 L549.8,1103.7 L549.9,1105.7 L550.1,1107.7 L550.2,1109.7 L550.3,1111.7 L550.4,1113.7 L550.6,1115.7 L550.7,1117.7 L550.8,1119.7 L550.9,1121.7 L551.0,1123.7 L551.2,1125.7 L551.3,1127.7 L551.4,1129.7 L551.5,1131.7 L551.7,1133.7 L551.8,1135.7 L551.9,1137.7 L552.0,1139.7 L552.2,1141.7 L552.3,1143.7 L552.4,1145.7 L552.6,1147.7 L552.7,1149.7 L552.9,1151.7 L553.0,1153.6 L553.2,1155.6 L553.3,1157.6 L553.5,1159.6 L553.7,1161.6 L553.8,1163.6 L554.0,1165.6 L554.2,1167.6 L554.3,1169.6 L554.5,1171.6 L554.6,1173.6 L554.8,1175.6 L554.9,1177.6 L555.0,1179.6 L555.1,1181.6 L555.3,1183.6 L555.4,1185.6 L555.5,1187.6 L555.6,1189.6 L555.7,1191.6 L555.7,1193.6 L555.8,1195.5 L555.9,1197.5 L556.0,1199.5 L556.1,1201.5 L556.2,1203.5 L556.3,1205.5 L556.3,1207.5 L556.4,1209.5 L556.5,1211.5 L556.6,1213.5 L556.7,1215.5 L556.7,1217.5 L556.8,1219.5 L556.9,1221.5 L557.0,1223.5 L557.1,1225.5 L557.2,1227.5 L557.3,1229.5 L557.4,1231.5 L557.4,1233.5 L557.5,1235.5 L557.6,1237.5 L557.7,1239.5 L557.8,1241.5 L557.9,1243.5 L558.0,1245.5 L558.1,1247.5 L558.2,1249.5 L558.3,1251.5 L558.4,1253.5 L558.5,1255.5 L558.6,1257.5 L558.7,1259.5 L558.8,1261.5 L558.9,1263.5 L559.0,1265.5 L559.2,1267.5 L559.3,1269.5 L559.4,1271.5 L559.6,1273.5 L559.7,1275.5 L559.9,1277.5 L560.0,1279.5 L560.1,1281.5 L560.3,1283.4 L560.4,1285.4 L560.5,1287.4 L560.7,1289.4 L560.8,1291.4 L560.9,1293.4 L561.1,1295.4 L561.2,1297.4 L561.3,1299.4 L561.4,1301.4 L561.5,1303.4 L561.6,1305.4 L561.7,1307.4 L561.8,1309.4 L561.9,1311.4 L562.0,1313.4 L562.1,1315.4 L562.2,1317.4 L562.3,1319.4 L562.4,1321.4 L562.5,1323.4 L562.5,1325.4 L562.6,1327.4 L562.7,1329.4 L562.8,1331.4 L562.9,1333.4 L563.0,1335.4 L563.1,1337.4 L563.2,1339.4 L563.3,1341.4 L563.4,1343.4 L563.5,1345.4 L563.6,1347.4 L563.6,1349.4 L563.7,1351.4 L563.8,1353.4 L563.9,1355.4 L564.0,1357.4 L564.1,1359.4 L564.2,1361.4 L564.3,1363.4 L564.4,1365.4 L564.5,1367.3 L564.6,1369.3 L564.8,1371.3 L564.9,1373.3 L565.0,1375.3 L565.1,1377.3 L565.2,1379.3 L565.4,1381.3 L565.5,1383.3 L565.6,1385.3 L565.8,1387.3 L566.0,1389.3 L566.1,1391.3 L566.3,1393.3 L566.5,1395.3 L566.7,1397.3 L566.9,1399.3 L567.1,1401.3 L567.2,1403.2 L567.4,1405.2 L567.6,1407.2 L567.8,1409.2 L568.0,1411.2 L568.2,1413.2 L568.4,1415.2 L568.6,1417.2 L568.8,1419.2 L569.0,1421.2 L569.2,1423.2 L569.4,1425.2 L569.6,1427.1 L569.8,1429.1 L570.0,1431.1 L570.3,1433.1 L570.5,1435.1 L570.7,1437.1 L570.9,1439.1 L571.2,1441.1 L571.4,1443.1 L571.6,1445.0 L571.9,1447.0 L572.2,1449.0 L572.4,1451.0 L572.7,1453.0 L573.0,1454.9 L573.3,1456.9 L573.6,1458.9 L573.9,1460.9 L574.3,1462.9 L574.6,1464.9 L575.1,1466.9 L575.6,1468.8 L576.2,1470.6 L577.2,1472.5 L578.5,1474.2 L579.9,1475.4 L581.6,1476.2 L583.6,1476.7 L585.7,1477.0 L587.6,1477.0 L589.6,1476.9 L591.6,1476.8 L593.6,1476.7 L595.6,1476.6 L597.6,1476.5 L599.6,1476.4 L601.6,1476.3 L603.6,1476.2 L605.6,1476.1 L607.6,1476.0 L609.6,1475.8 L611.6,1475.7 L613.6,1475.6 L615.6,1475.5 L617.6,1475.4 L619.6,1475.2 L621.6,1475.1 L623.6,1475.0 L625.6,1474.9 L627.6,1474.7 L629.6,1474.6 L631.6,1474.5 L633.6,1474.4 L635.6,1474.2 L637.6,1474.1 L639.6,1474.0 L641.6,1473.9 L643.6,1473.8 L645.6,1473.7 L647.6,1473.5 L649.6,1473.4 L651.6,1473.3 L653.6,1473.2 L655.5,1473.1 L657.5,1473.0 L659.5,1472.9 L661.5,1472.7 L663.5,1472.6 L665.5,1472.5 L667.5,1472.4 L669.5,1472.3 L671.5,1472.2 L673.5,1472.1 L675.5,1472.0 L677.5,1471.9 L679.5,1471.8 L681.5,1471.7 L683.5,1471.6 L685.5,1471.5 L687.5,1471.4 L689.5,1471.3 L691.5,1471.1 L693.5,1471.0 L695.5,1470.9 L697.5,1470.8 L699.5,1470.7 L701.5,1470.6 L703.5,1470.5 L705.5,1470.4 L707.5,1470.4 L709.5,1470.3 L711.5,1470.2 L713.5,1470.1 L715.5,1470.0 L717.5,1469.9 L719.5,1469.8 L721.5,1469.7 L723.5,1469.6 L725.5,1469.5 L727.5,1469.4 L729.5,1469.4 L731.5,1469.3 L733.5,1469.2 L735.5,1469.1 L737.5,1469.0 L739.5,1468.9 L741.5,1468.9 L743.4,1468.8 L745.4,1468.7 L747.4,1468.6 L749.4,1468.5 L751.4,1468.5 L753.4,1468.4 L755.4,1468.3 L757.4,1468.2 L759.4,1468.2 L761.4,1468.1 L763.4,1468.0 L765.4,1467.9 L767.4,1467.9 L769.4,1467.8 L771.4,1467.7 L773.4,1467.6 L775.4,1467.6 L777.4,1467.5 L779.4,1467.4 L781.4,1467.3 L783.4,1467.3 L785.4,1467.2 L787.4,1467.1 L789.4,1467.1 L791.4,1467.0 L793.4,1466.9 L795.4,1466.9 L797.4,1466.8 L799.4,1466.7 L801.4,1466.6 L803.4,1466.6 L805.4,1466.5 L807.4,1466.4 L809.4,1466.3 L811.4,1466.3 L813.4,1466.2 L815.4,1466.1 L817.4,1466.0 L819.4,1466.0 L821.4,1465.9 L823.4,1465.8 L825.4,1465.7 L827.4,1465.7 L829.4,1465.6 L831.4,1465.5 L833.4,1465.4 L835.4,1465.4 L837.4,1465.3 L839.4,1465.2 L841.4,1465.1 L843.4,1465.0 L845.4,1465.0 L847.4,1464.9 L849.4,1464.8 L851.4,1464.7 L853.4,1464.6 L855.4,1464.5 L857.4,1464.5 L859.4,1464.4 L861.4,1464.3 L863.4,1464.2 L865.4,1464.1 L867.4,1464.0 L869.4,1464.0 L871.4,1463.9 L873.4,1463.8 L875.4,1463.7 L877.4,1463.6 L879.4,1463.6 L881.4,1463.5 L883.4,1463.4 L885.4,1463.3 L887.4,1463.2 L889.4,1463.1 L891.4,1463.1 L893.4,1463.0 L895.4,1462.9 L897.4,1462.8 L899.3,1462.7 L901.3,1462.7 L903.3,1462.6 L905.3,1462.5 L907.3,1462.4 L909.3,1462.4 L911.3,1462.3 L913.3,1462.2 L915.3,1462.1 L917.3,1462.1 L919.3,1462.0 L921.3,1461.9 L923.3,1461.8 L925.3,1461.8 L927.3,1461.7 L929.3,1461.6 L931.3,1461.6 L933.3,1461.5 L935.3,1461.4 L937.3,1461.4 L939.3,1461.3 L941.3,1461.2 L943.3,1461.2 L945.3,1461.1 L947.3,1461.1 L949.3,1461.0 L951.3,1460.9 L953.3,1460.9 L955.3,1460.8 L957.3,1460.8 L959.3,1460.7 L961.3,1460.7 L963.3,1460.6 L965.3,1460.6 L967.3,1460.6 L969.3,1460.5 L971.3,1460.5 L973.3,1460.4 L975.3,1460.4 L977.3,1460.4 L979.3,1460.3 L981.3,1460.3 L983.3,1460.2 L985.3,1460.2 L987.3,1460.2 L989.3,1460.1 L991.3,1460.1 L993.3,1460.1 L995.3,1460.1 L997.3,1460.0 L999.3,1460.0 L1001.3,1460.0 L1003.3,1460.0 L1005.3,1459.9 L1007.3,1459.9 L1009.3,1459.9 L1011.3,1459.9 L1013.3,1459.9 L1015.3,1459.8 L1017.3,1459.8 L1019.3,1459.8 L1021.3,1459.8 L1023.3,1459.8 L1025.3,1459.8 L1027.3,1459.7 L1029.3,1459.7 L1031.3,1459.7 L1033.3,1459.7 L1035.3,1459.7 L1037.3,1459.7 L1039.3,1459.7 L1041.3,1459.6 L1043.3,1459.6 L1045.3,1459.6 L1047.3,1459.6 L1049.3,1459.6 L1051.3,1459.6 L1053.3,1459.5 L1055.3,1459.5 L1057.3,1459.5 L1059.3,1459.5 L1061.3,1459.5 L1063.3,1459.5 L1065.3,1459.5 L1067.3,1459.4 L1069.3,1459.4 L1071.3,1459.4 L1073.3,1459.4 L1075.3,1459.4 L1077.3,1459.4 L1079.3,1459.4 L1081.3,1459.3 L1083.3,1459.3 L1085.3,1459.3 L1087.3,1459.3 L1089.3,1459.3 L1091.3,1459.3 L1093.3,1459.3 L1095.3,1459.3 L1097.3,1459.2 L1099.3,1459.2 L1101.3,1459.2 L1103.3,1459.2 L1105.3,1459.2 L1107.3,1459.2 L1109.3,1459.2 L1111.3,1459.2 L1113.3,1459.2 L1115.3,1459.1 L1117.3,1459.1 L1119.3,1459.1 L1121.3,1459.1 L1123.3,1459.1 L1125.3,1459.1 L1127.3,1459.1 L1129.3,1459.1 L1131.3,1459.1 L1133.3,1459.1 L1135.3,1459.1 L1137.3,1459.0 L1139.3,1459.0 L1141.3,1459.0 L1143.3,1459.0 L1145.3,1459.0 L1147.3,1459.0 L1149.3,1459.0 L1151.3,1459.0 L1153.3,1459.0 L1155.3,1459.0 L1157.3,1459.0 L1159.3,1459.0 L1161.3,1459.0 L1163.3,1459.0 L1165.3,1459.0 L1167.3,1458.9 L1169.3,1458.9 L1171.3,1458.9 L1173.3,1458.9 L1175.3,1458.9 L1177.3,1458.9 L1179.3,1458.9 L1181.3,1458.9 L1183.3,1458.9 L1185.3,1458.9 L1187.3,1458.9 L1189.3,1458.9 L1191.3,1458.9 L1193.3,1458.9 L1195.3,1458.9 L1197.3,1458.9 L1199.3,1458.9 L1201.3,1458.9 L1203.3,1458.9 L1205.3,1458.9 L1207.3,1458.9 L1209.3,1458.9 L1211.3,1458.9 L1213.3,1458.9 L1215.3,1458.9 L1217.3,1458.9 L1219.3,1458.9 L1221.3,1458.9 L1223.3,1458.9 L1225.3,1458.9 L1227.3,1458.9 L1229.3,1458.9 L1231.3,1458.9 L1233.3,1459.0 L1235.3,1459.0 L1237.3,1459.0 L1239.3,1459.0 L1241.3,1459.0 L1243.3,1459.0 L1245.3,1459.0 L1247.3,1459.0 L1249.3,1459.0 L1251.3,1459.0 L1253.3,1459.0 L1255.3,1459.0 L1257.3,1459.0 L1259.3,1459.1 L1261.3,1459.1 L1263.3,1459.1 L1265.3,1459.1 L1267.3,1459.1 L1269.3,1459.1 L1271.3,1459.1 L1273.3,1459.1 L1275.3,1459.1 L1277.3,1459.2 L1279.3,1459.2 L1281.3,1459.2 L1283.3,1459.2 L1285.3,1459.2 L1287.3,1459.2 L1289.3,1459.2 L1291.3,1459.2 L1293.3,1459.3 L1295.3,1459.3 L1297.3,1459.3 L1299.3,1459.3 L1301.3,1459.3 L1303.3,1459.3 L1305.3,1459.3 L1307.3,1459.4 L1309.3,1459.4 L1311.3,1459.4 L1313.3,1459.4 L1315.3,1459.4 L1317.3,1459.4 L1319.3,1459.5 L1321.3,1459.5 L1323.3,1459.5 L1325.3,1459.5 L1327.3,1459.5 L1329.3,1459.6 L1331.3,1459.6 L1333.3,1459.6 L1335.3,1459.6 L1337.3,1459.6 L1339.3,1459.7 L1341.3,1459.7 L1343.3,1459.7 L1345.3,1459.7 L1347.3,1459.8 L1349.3,1459.8 L1351.3,1459.8 L1353.3,1459.9 L1355.3,1459.9 L1357.3,1459.9 L1359.3,1459.9 L1361.3,1460.0 L1363.3,1460.0 L1365.3,1460.0 L1367.3,1460.1 L1369.3,1460.1 L1371.3,1460.1 L1373.3,1460.1 L1375.3,1460.2 L1377.3,1460.2 L1379.3,1460.2 L1381.3,1460.3 L1383.3,1460.3 L1385.3,1460.3 L1387.3,1460.4 L1389.3,1460.4 L1391.3,1460.5 L1393.3,1460.5 L1395.3,1460.5 L1397.3,1460.6 L1399.3,1460.6 L1401.3,1460.6 L1403.3,1460.7 L1405.3,1460.7 L1407.3,1460.7 L1409.3,1460.8 L1411.3,1460.8 L1413.3,1460.9 L1415.3,1460.9 L1417.3,1460.9 L1419.3,1461.0 L1421.3,1461.0 L1423.3,1461.0 L1425.3,1461.1 L1427.3,1461.1 L1429.3,1461.2 L1431.3,1461.2 L1433.3,1461.2 L1435.3,1461.3 L1437.3,1461.3 L1439.3,1461.4 L1441.3,1461.4 L1443.3,1461.5 L1445.3,1461.5 L1447.3,1461.5 L1449.3,1461.6 L1451.3,1461.6 L1453.3,1461.7 L1455.3,1461.7 L1457.3,1461.7 L1459.3,1461.8 L1461.3,1461.8 L1463.3,1461.9 L1465.3,1461.9 L1467.3,1462.0 L1469.3,1462.0 L1471.3,1462.1 L1473.3,1462.1 L1475.3,1462.1 L1477.3,1462.2 L1479.3,1462.2 L1481.3,1462.3 L1483.3,1462.3 L1485.3,1462.4 L1487.3,1462.4 L1489.3,1462.5 L1491.3,1462.5 L1493.3,1462.6 L1495.3,1462.7 L1497.3,1462.7 L1499.3,1462.8 L1501.3,1462.8 L1503.3,1462.9 L1505.3,1462.9 L1507.3,1463.0 L1509.3,1463.1 L1511.3,1463.1 L1513.3,1463.2 L1515.3,1463.2 L1517.3,1463.3 L1519.3,1463.4 L1521.3,1463.4 L1523.3,1463.5 L1525.3,1463.5 L1527.3,1463.6 L1529.3,1463.7 L1531.3,1463.7 L1533.3,1463.8 L1535.3,1463.9 L1537.3,1463.9 L1539.3,1464.0 L1541.3,1464.1 L1543.3,1464.1 L1545.3,1464.2 L1547.3,1464.3 L1549.3,1464.3 L1551.3,1464.4 L1553.3,1464.5 L1555.3,1464.5 L1557.3,1464.6 L1559.3,1464.7 L1561.3,1464.7 L1563.3,1464.8 L1565.3,1464.9 L1567.3,1465.0 L1569.3,1465.0 L1571.3,1465.1 L1573.3,1465.2 L1575.3,1465.2 L1577.3,1465.3 L1579.3,1465.4 L1581.3,1465.5 L1583.3,1465.5 L1585.3,1465.6 L1587.3,1465.7 L1589.3,1465.8 L1591.3,1465.8 L1593.3,1465.9 L1595.3,1466.0 L1597.3,1466.1 L1599.3,1466.1 L1601.3,1466.2 L1603.3,1466.3 L1605.3,1466.4 L1607.3,1466.4 L1609.3,1466.5 L1611.3,1466.6 L1613.3,1466.7 L1615.3,1466.7 L1617.3,1466.8 L1619.3,1466.9 L1621.3,1467.0 L1623.3,1467.1 L1625.3,1467.1 L1627.3,1467.2 L1629.3,1467.3 L1631.3,1467.4 L1633.3,1467.4 L1635.3,1467.5 L1637.3,1467.6 L1639.3,1467.7 L1641.3,1467.7 L1643.3,1467.8 L1645.3,1467.9 L1647.3,1468.0 L1649.3,1468.1 L1651.3,1468.1 L1653.3,1468.2 L1655.3,1468.3 L1657.2,1468.4 L1659.2,1468.4 L1661.2,1468.5 L1663.2,1468.6 L1665.2,1468.7 L1667.2,1468.7 L1669.2,1468.8 L1671.2,1468.9 L1673.2,1469.0 L1675.2,1469.1 L1677.2,1469.1 L1679.2,1469.2 L1681.2,1469.3 L1683.2,1469.4 L1685.2,1469.4 L1687.2,1469.5 L1689.2,1469.6 L1691.2,1469.7 L1693.2,1469.7 L1695.2,1469.8 L1697.2,1469.9 L1699.2,1470.0 L1701.2,1470.1 L1703.2,1470.1 L1705.2,1470.2 L1707.2,1470.3 L1709.2,1470.4 L1711.2,1470.4 L1713.2,1470.5 L1715.2,1470.6 L1717.2,1470.7 L1719.2,1470.8 L1721.2,1470.8 L1723.2,1470.9 L1725.2,1471.0 L1727.2,1471.1 L1729.2,1471.2 L1731.2,1471.2 L1733.2,1471.3 L1735.2,1471.4 L1737.2,1471.5 L1739.2,1471.6 L1741.2,1471.7 L1743.2,1471.7 L1745.2,1471.8 L1747.2,1471.9 L1749.2,1472.0 L1751.2,1472.1 L1753.2,1472.2 L1755.2,1472.2 L1757.2,1472.3 L1759.2,1472.4 L1761.2,1472.5 L1763.2,1472.6 L1765.2,1472.7 L1767.2,1472.8 L1769.2,1472.8 L1771.2,1472.9 L1773.2,1473.0 L1775.2,1473.1 L1777.2,1473.2 L1779.2,1473.3 L1781.2,1473.4 L1783.2,1473.5 L1785.2,1473.6 L1787.2,1473.7 L1789.2,1473.7 L1791.2,1473.8 L1793.1,1473.9 L1795.1,1474.0 L1797.1,1474.1 L1799.1,1474.2 L1801.1,1474.3 L1803.1,1474.4 L1805.1,1474.5 L1807.1,1474.6 L1809.1,1474.7 L1811.1,1474.8 L1813.1,1474.9 L1815.1,1475.0 L1817.1,1475.1 L1819.1,1475.2 L1821.1,1475.3 L1823.1,1475.4 L1825.1,1475.5 L1827.1,1475.6 L1829.1,1475.7 L1831.1,1475.8 L1833.1,1475.9 L1835.1,1476.0 L1837.1,1476.1 L1839.1,1476.2 L1841.1,1476.4 L1843.1,1476.5 L1845.1,1476.5 L1847.1,1476.6 L1849.2,1476.7 L1851.2,1476.8 L1853.2,1476.9 L1855.2,1477.0 L1857.3,1477.0 L1859.3,1477.1 L1861.3,1477.2 L1863.3,1477.3 L1865.3,1477.5 L1867.3,1477.6 L1869.3,1477.7 L1871.3,1477.9 L1873.3,1478.1 L1875.2,1478.3 L1877.2,1478.5 L1879.1,1478.7 L1880.9,1479.2 L1882.8,1480.2 L1884.6,1480.5 L1886.6,1480.5 L1888.6,1480.5 L1890.6,1480.5 L1892.7,1480.5 L1894.7,1480.5 L1896.7,1480.5 L1898.7,1480.4 L1900.7,1480.1 L1902.7,1479.7 L1904.6,1479.2 L1906.5,1478.7 L1908.4,1477.9 L1910.2,1476.9 L1911.9,1475.9 L1913.5,1474.8 L1915.1,1473.5 L1916.6,1472.1 L1917.8,1470.6 L1918.7,1468.9 L1919.6,1467.1 L1920.4,1465.2 L1921.1,1463.3 L1921.9,1461.4 L1922.6,1459.6 L1923.4,1457.7 L1924.1,1455.8 L1924.8,1453.9 L1925.5,1452.1 L1926.1,1450.2 L1926.7,1448.3 L1927.2,1446.3 L1927.7,1444.4 L1928.1,1442.5 L1928.6,1440.5 L1929.0,1438.5 L1929.4,1436.6 L1929.8,1434.6 L1930.2,1432.6 L1930.6,1430.7 L1931.0,1428.7 L1931.5,1426.8 L1932.0,1424.8 L1932.5,1422.9 L1933.2,1421.0 L1933.8,1419.2 L1934.5,1417.3 L1935.3,1415.4 L1936.0,1413.5 L1936.6,1411.6 L1937.2,1409.7 L1937.8,1407.8 L1938.4,1405.9 L1939.0,1404.0 L1939.5,1402.0 L1940.1,1400.1 L1940.6,1398.1 L1941.1,1396.2 L1941.7,1394.3 L1942.2,1392.3 L1942.8,1390.4 L1943.3,1388.5 L1943.9,1386.5 L1944.5,1384.6 L1945.1,1382.7 L1945.7,1380.9 L1946.4,1379.0 L1947.1,1377.1 L1947.9,1375.3 L1948.7,1373.5 L1949.6,1371.8 L1950.5,1370.0 L1951.5,1368.3 L1952.6,1366.5 L1953.6,1364.8 L1954.7,1363.1 L1955.7,1361.4 L1956.8,1359.7 L1957.9,1358.0 L1959.0,1356.4 L1960.2,1354.7 L1961.3,1353.0 L1962.3,1351.3 L1963.3,1349.6 L1964.2,1347.8 L1965.0,1346.0 L1965.8,1344.2 L1966.5,1342.3 L1967.2,1340.4 L1967.8,1338.5 L1968.4,1336.6 L1969.0,1334.7 L1969.5,1332.7 L1970.0,1330.8 L1970.4,1328.8 L1970.6,1326.8 L1970.7,1324.9 L1970.8,1322.9 L1970.9,1320.9 L1971.0,1318.9 L1971.1,1316.9 L1971.2,1314.9 L1971.3,1312.9 L1971.3,1310.9 L1971.4,1308.9 L1971.5,1306.9 L1971.6,1304.9 L1971.7,1302.9 L1971.8,1300.9 L1971.9,1298.9 L1972.0,1296.9 L1972.1,1294.9 L1972.2,1292.9 L1972.4,1290.9 L1972.5,1288.9 L1972.6,1286.9 L1972.8,1284.9 L1972.9,1282.9 L1973.0,1280.9 L1973.2,1278.9 L1973.3,1276.9 L1973.4,1274.9 L1973.6,1272.9 L1973.7,1270.9 L1973.8,1268.9 L1973.9,1266.9 L1974.1,1264.9 L1974.2,1262.9 L1974.3,1260.9 L1974.4,1258.9 L1974.6,1256.9 L1974.7,1254.9 L1974.8,1252.9 L1974.9,1251.0 L1975.1,1249.0 L1975.2,1247.0 L1975.3,1245.0 L1975.4,1243.0 L1975.6,1241.0 L1975.7,1239.0 L1975.8,1237.0 L1975.9,1235.0 L1976.1,1233.0 L1976.2,1231.0 L1976.3,1229.0 L1976.5,1227.0 L1976.6,1225.0 L1976.7,1223.0 L1976.9,1221.0 L1977.0,1219.0 L1977.1,1217.0 L1977.3,1215.0 L1977.4,1213.0 L1977.6,1211.0 L1977.7,1209.0 L1977.9,1207.0 L1978.0,1205.0 L1978.1,1203.1 L1978.3,1201.1 L1978.4,1199.1 L1978.5,1197.1 L1978.6,1195.1 L1978.7,1193.1 L1978.8,1191.1 L1978.9,1189.1 L1978.9,1187.1 L1979.0,1185.1 L1979.1,1183.1 L1979.2,1181.1 L1979.3,1179.1 L1979.4,1177.1 L1979.4,1175.1 L1979.5,1173.1 L1979.6,1171.1 L1979.7,1169.1 L1979.7,1167.1 L1979.8,1165.1 L1979.9,1163.1 L1979.9,1161.1 L1980.0,1159.1 L1980.1,1157.1 L1980.2,1155.1 L1980.2,1153.1 L1980.3,1151.1 L1980.4,1149.1 L1980.4,1147.1 L1980.5,1145.1 L1980.6,1143.1 L1980.7,1141.1 L1980.7,1139.1 L1980.8,1137.1 L1980.9,1135.1 L1981.0,1133.1 L1981.0,1131.1 L1981.1,1129.1 L1981.2,1127.1 L1981.2,1125.1 L1981.3,1123.1 L1981.4,1121.1 L1981.4,1119.1 L1981.5,1117.1 L1981.5,1115.1 L1981.6,1113.1 L1981.6,1111.1 L1981.7,1109.1 L1981.7,1107.1 L1981.8,1105.1 L1981.8,1103.1 L1981.8,1101.1 L1981.9,1099.1 L1981.9,1097.1 L1982.0,1095.1 L1982.0,1093.1 L1982.0,1091.1 L1982.1,1089.1 L1982.1,1087.1 L1982.2,1085.1 L1982.2,1083.1 L1982.3,1081.1 L1982.3,1079.1 L1982.4,1077.1 L1982.5,1075.1 L1982.5,1073.1 L1982.6,1071.1 L1982.7,1069.1 L1982.8,1067.1 L1982.9,1065.1 L1983.0,1063.1 L1983.2,1061.1 L1983.3,1059.1 L1983.4,1057.1 L1983.6,1055.2 L1983.8,1053.2 L1983.9,1051.2 L1984.1,1049.2 L1984.2,1047.2 L1984.4,1045.2 L1984.5,1043.2 L1984.6,1041.2 L1984.7,1039.2 L1984.9,1037.2 L1985.0,1035.2 L1985.1,1033.2 L1985.2,1031.2 L1985.3,1029.2 L1985.5,1027.2 L1985.6,1025.2 L1985.7,1023.2 L1985.8,1021.2 L1985.9,1019.2 L1986.0,1017.2 L1986.2,1015.2 L1986.3,1013.2 L1986.4,1011.2 L1986.5,1009.2 L1986.7,1007.2 L1986.8,1005.2 L1986.9,1003.2 L1987.1,1001.3 L1987.2,999.3 L1987.4,997.3 L1987.5,995.3 L1987.7,993.3 L1987.8,991.3 L1988.0,989.3 L1988.2,987.3 L1988.4,985.3 L1988.6,983.3 L1988.8,981.3 L1989.0,979.3 L1989.2,977.3 L1989.4,975.4 L1989.6,973.4 L1989.8,971.4 L1990.0,969.4 L1990.2,967.4 L1990.4,965.4 L1990.6,963.4 L1990.8,961.4 L1991.0,959.4 L1991.1,957.4 L1991.3,955.4 L1991.5,953.5 L1991.7,951.5 L1991.8,949.5 L1992.0,947.5 L1992.2,945.5 L1992.4,943.5 L1992.6,941.5 L1992.7,939.5 L1992.9,937.5 L1993.1,935.5 L1993.3,933.5 L1993.5,931.5 L1993.7,929.5 L1993.9,927.6 L1994.1,925.6 L1994.3,923.6 L1994.5,921.6 L1994.7,919.6 L1995.0,917.6 L1995.2,915.6 L1995.5,913.7 L1995.7,911.7 L1996.0,909.7 L1996.3,907.7 L1996.6,905.7 L1996.9,903.8 L1997.2,901.8 L1997.5,899.8 L1997.9,897.8 L1998.2,895.9 L1998.5,893.9 L1998.7,891.9 L1999.0,889.9 L1999.3,887.9 L1999.6,885.9 L1999.8,884.0 L2000.1,882.0 L2000.3,880.0 L2000.6,878.0 L2000.8,876.0 L2001.1,874.0 L2001.3,872.1 L2001.6,870.1 L2001.8,868.1 L2002.0,866.1 L2002.3,864.1 L2002.5,862.1 L2002.8,860.1 L2003.0,858.2 L2003.2,856.2 L2003.5,854.2 L2003.7,852.2 L2004.0,850.2 L2004.3,848.2 L2004.5,846.2 L2004.8,844.3 L2005.1,842.3 L2005.3,840.3 L2005.6,838.3 L2005.9,836.3 L2006.2,834.4 L2006.5,832.4 L2006.8,830.4 L2007.2,828.4 L2007.5,826.5 L2007.8,824.5 L2008.1,822.5 L2008.4,820.5 L2008.7,818.6 L2009.0,816.6 L2009.3,814.6 L2009.6,812.6 L2009.9,810.7 L2010.2,808.7 L2010.4,806.7 L2010.7,804.7 L2011.0,802.7 L2011.2,800.7 L2011.5,798.8 L2011.7,796.8 L2012.0,794.8 L2012.2,792.8 L2012.5,790.8 L2012.7,788.8 L2013.0,786.8 L2013.2,784.9 L2013.5,782.9 L2013.7,780.9 L2014.0,778.9 L2014.2,776.9 L2014.5,774.9 L2014.8,773.0 L2015.1,771.0 L2015.3,769.0 L2015.6,767.0 L2015.9,765.0 L2016.2,763.1 L2016.6,761.1 L2016.9,759.1 L2017.2,757.2 L2017.6,755.2 L2018.0,753.2 L2018.3,751.3 L2018.7,749.3 L2019.1,747.3 L2019.4,745.4 L2019.8,743.4 L2020.2,741.4 L2020.5,739.5 L2020.9,737.5 L2021.3,735.5 L2021.6,733.6 L2022.0,731.6 L2022.4,729.6 L2022.7,727.7 L2023.1,725.7 L2023.4,723.7 L2023.8,721.7 L2024.1,719.8 L2024.5,717.8 L2024.9,715.8 L2025.2,713.9 L2025.6,711.9 L2026.0,709.9 L2026.3,708.0 L2026.7,706.0 L2027.1,704.0 L2027.4,702.1 L2027.8,700.1 L2028.2,698.2 L2028.6,696.2 L2029.0,694.2 L2029.3,692.3 L2029.7,690.3 L2030.1,688.3 L2030.5,686.4 L2030.9,684.4 L2031.4,682.5 L2031.8,680.5 L2032.2,678.6 L2032.6,676.6 L2033.0,674.6 L2033.5,672.7 L2033.9,670.7 L2034.3,668.8 L2034.8,666.8 L2035.2,664.9 L2035.6,662.9 L2036.0,661.0 L2036.5,659.0 L2036.9,657.1 L2037.3,655.1 L2037.7,653.1 L2038.1,651.2 L2038.6,649.2 L2039.0,647.3 L2039.4,645.3 L2039.8,643.3 L2040.2,641.4 L2040.6,639.4 L2041.0,637.5 L2041.5,635.5 L2041.9,633.6 L2042.3,631.6 L2042.7,629.7 L2043.2,627.7 L2043.6,625.8 L2044.1,623.8 L2044.5,621.9 L2045.0,619.9 L2045.5,618.0 L2046.0,616.0 L2046.4,614.1 L2047.0,612.2 L2047.5,610.2 L2048.0,608.3 L2048.6,606.4 L2049.2,604.5 L2049.8,602.6 L2050.4,600.7 L2051.0,598.8 L2051.6,596.9 L2052.2,595.0 L2052.8,593.0 L2053.4,591.1 L2054.0,589.2 L2054.5,587.3 L2055.1,585.4 L2055.6,583.4 L2056.1,581.5 L2056.6,579.6 L2057.1,577.6 L2057.5,575.7 L2058.0,573.7 L2058.5,571.8 L2058.9,569.8 L2059.4,567.9 L2059.8,565.9 L2060.3,564.0 L2060.7,562.0 L2061.2,560.1 L2061.7,558.1 L2062.1,556.2 L2062.6,554.2 L2063.1,552.3 L2063.6,550.3 L2064.1,548.4 L2064.6,546.5 L2065.1,544.6 L2065.6,542.6 L2066.2,540.7 L2066.7,538.8 L2067.3,536.9 L2067.9,535.0 L2068.6,533.1 L2069.2,531.2 L2069.9,529.3 L2070.6,527.5 L2071.3,525.6 L2072.0,523.7 L2072.7,521.8 L2073.4,519.9 L2074.1,518.1 L2074.8,516.2 L2075.5,514.3 L2076.2,512.4 L2076.8,510.5 L2077.5,508.7 L2078.2,506.8 L2078.8,504.9 L2079.5,503.0 L2080.2,501.1 L2080.8,499.2 L2081.5,497.3 L2082.2,495.5 L2082.9,493.6 L2083.6,491.7 L2084.3,489.8 L2085.0,488.0 L2085.7,486.1 L2086.4,484.2 L2087.2,482.4 L2087.9,480.5 L2088.7,478.7 L2089.4,476.8 L2090.2,475.0 L2090.9,473.1 L2091.6,471.2 L2092.4,469.4 L2093.1,467.5 L2093.8,465.6 L2094.5,463.8 L2095.1,461.9 L2095.8,460.0 L2096.5,458.1 L2097.1,456.2 L2097.8,454.3 L2098.4,452.4 L2099.1,450.5 L2099.8,448.6 L2100.5,446.8 L2101.2,444.9 L2101.9,443.0 L2102.7,441.2 L2103.4,439.4 L2104.2,437.5 L2105.1,435.7 L2105.9,433.9 L2106.7,432.1 L2107.6,430.3 L2108.5,428.5 L2109.4,426.7 L2110.3,424.9 L2111.2,423.1 L2112.1,421.3 L2113.0,419.6 L2114.0,417.8 L2114.9,416.0 L2115.9,414.3 L2116.9,412.5 L2117.9,410.8 L2118.9,409.0 L2119.9,407.3 L2120.9,405.5 L2121.9,403.8 L2122.9,402.1 L2123.9,400.4 L2125.0,398.7 L2126.0,397.0 L2127.1,395.3 L2128.1,393.6 L2129.2,391.9 L2130.3,390.3 L2131.4,388.6 L2132.6,387.0 L2133.7,385.3 L2134.9,383.7 L2136.0,382.1 L2137.2,380.4 L2138.4,378.8 L2139.6,377.2 L2140.8,375.6 L2142.0,374.0" stroke="#f00" stroke-dasharray="49 28" stroke-dashoffset="75.80"/>
<path d="M223.0,362.5 L224.7,361.4 L226.4,360.3 L228.2,359.5 L230.0,358.7 L231.8,357.7 L233.3,356.5 L234.9,355.1 L236.4,353.9 L238.2,353.0 L240.1,352.1 L242.0,351.3 L243.9,351.0 L245.8,351.3 L247.7,352.0 L249.6,352.9 L251.4,353.8 L253.0,354.8 L254.7,356.0 L256.3,357.2 L258.1,358.2 L259.8,359.0 L261.7,359.9 L263.5,360.7 L265.4,361.4 L267.2,362.2 L269.0,363.0 L270.8,363.9 L272.6,364.8 L274.4,365.8 L276.2,366.7 L277.9,367.7 L279.7,368.6 L281.4,369.6 L283.2,370.5 L285.0,371.5 L286.7,372.4 L288.5,373.4 L290.3,374.3 L292.1,375.2 L293.9,376.0 L295.7,376.8 L297.6,377.6 L299.5,378.3 L301.4,378.5 L303.4,378.2 L305.3,377.7 L307.2,377.0 L309.2,376.3 L311.1,375.7 L313.0,375.0 L314.8,374.4 L316.7,373.7 L318.6,373.0 L320.5,372.3 L322.4,371.6 L324.3,370.9 L326.1,370.2 L328.1,369.7 L330.0,369.2 L332.0,368.8 L334.0,368.8 L336.0,369.1 L337.9,369.7 L339.6,370.4 L341.2,371.6 L342.8,373.0 L344.3,374.4 L345.8,375.7 L347.4,377.0 L348.9,378.3 L350.4,379.6 L351.9,380.9 L353.4,382.3 L354.9,383.6 L356.4,385.0 L357.8,386.4 L359.1,387.8 L360.3,389.4 L361.5,391.0 L362.6,392.6 L363.7,394.3 L364.7,396.0 L365.7,397.8 L366.7,399.5 L367.7,401.3 L368.7,403.1 L369.7,404.8 L370.7,406.5 L371.8,408.3 L372.8,410.0 L373.8,411.7 L374.8,413.4 L375.8,415.2 L376.9,416.9 L377.9,418.6 L378.9,420.3 L379.8,422.1 L380.8,423.8 L381.8,425.6 L382.8,427.3 L383.7,429.1 L384.6,430.9 L385.6,432.6 L386.5,434.4 L387.4,436.2 L388.3,438.0 L389.2,439.8 L390.1,441.6 L391.0,443.4 L391.8,445.2 L392.7,447.0 L393.6,448.8 L394.5,450.5 L395.4,452.3 L396.2,454.1 L397.1,455.9 L398.0,457.7 L398.9,459.5 L399.8,461.3 L400.7,463.1 L401.7,464.9 L402.6,466.7 L403.5,468.4 L404.5,470.2 L405.4,472.0 L406.3,473.8 L407.2,475.6 L408.1,477.3 L409.0,479.1 L409.9,480.9 L410.7,482.7 L411.6,484.6 L412.4,486.4 L413.2,488.2 L413.9,490.0 L414.6,491.9 L415.3,493.8 L416.0,495.6 L416.7,497.5 L417.4,499.4 L418.0,501.3 L418.7,503.2 L419.3,505.1 L419.9,507.0 L420.5,508.9 L421.1,510.8 L421.7,512.7 L422.3,514.6 L422.9,516.5 L423.5,518.4 L424.1,520.4 L424.7,522.3 L425.4,524.2 L426.0,526.1 L426.6,528.0 L427.2,529.9 L427.8,531.8 L428.5,533.7 L429.1,535.6 L429.8,537.5 L430.5,539.4 L431.2,541.3 L431.9,543.1 L432.6,545.0 L433.3,546.9 L434.0,548.8 L434.7,550.6 L435.4,552.5 L436.0,554.4 L436.7,556.3 L437.4,558.2 L438.1,560.0 L438.8,561.9 L439.4,563.8 L440.0,565.7 L440.7,567.6 L441.3,569.5 L441.9,571.4 L442.5,573.3 L443.1,575.2 L443.6,577.2 L444.2,579.1 L444.8,581.0 L445.4,582.9 L445.9,584.8 L446.5,586.8 L447.0,588.7 L447.6,590.6 L448.2,592.5 L448.7,594.4 L449.3,596.4 L449.8,598.3 L450.4,600.2 L450.9,602.1 L451.5,604.1 L452.0,606.0 L452.6,607.9 L453.1,609.8 L453.7,611.8 L454.2,613.7 L454.8,615.6 L455.3,617.5 L455.9,619.5 L456.4,621.4 L457.0,623.3 L457.5,625.2 L458.0,627.2 L458.6,629.1 L459.1,631.0 L459.6,633.0 L460.1,634.9 L460.6,636.8 L461.2,638.8 L461.7,640.7 L462.2,642.6 L462.7,644.6 L463.2,646.5 L463.6,648.4 L464.1,650.4 L464.6,652.3 L465.0,654.3 L465.5,656.2 L466.0,658.2 L466.4,660.1 L466.9,662.1 L467.3,664.0 L467.7,666.0 L468.2,667.9 L468.6,669.9 L469.1,671.8 L469.6,673.8 L470.0,675.7 L470.5,677.7 L471.0,679.6 L471.5,681.6 L472.0,683.5 L472.5,685.4 L473.0,687.4 L473.5,689.3 L474.0,691.2 L474.6,693.2 L475.1,695.1 L475.6,697.0 L476.2,698.9 L476.7,700.9 L477.2,702.8 L477.7,704.8 L478.2,706.7 L478.6,708.6 L479.1,710.6 L479.6,712.5 L480.0,714.5 L480.4,716.4 L480.9,718.4 L481.3,720.3 L481.7,722.3 L482.1,724.2 L482.6,726.2 L483.0,728.2 L483.4,730.1 L483.8,732.1 L484.2,734.0 L484.6,736.0 L485.0,738.0 L485.4,739.9 L485.8,741.9 L486.2,743.9 L486.6,745.8 L487.0,747.8 L487.4,749.7 L487.8,751.7 L488.2,753.7 L488.6,755.6 L489.0,757.6 L489.4,759.5 L489.8,761.5 L490.2,763.5 L490.6,765.4 L491.1,767.4 L491.5,769.3 L491.9,771.3 L492.3,773.2 L492.8,775.2 L493.2,777.1 L493.6,779.1 L494.0,781.1 L494.4,783.0 L494.8,785.0 L495.2,786.9 L495.6,788.9 L496.0,790.9 L496.4,792.8 L496.8,794.8 L497.2,796.7 L497.6,798.7 L497.9,800.7 L498.3,802.6 L498.7,804.6 L499.1,806.6 L499.5,808.5 L499.8,810.5 L500.2,812.5 L500.6,814.4 L500.9,816.4 L501.3,818.4 L501.6,820.3 L502.0,822.3 L502.3,824.3 L502.7,826.3 L503.0,828.2 L503.3,830.2 L503.6,832.2 L504.0,834.2 L504.3,836.1 L504.6,838.1 L504.9,840.1 L505.2,842.1 L505.5,844.0 L505.8,846.0 L506.1,848.0 L506.4,850.0 L506.7,852.0 L507.0,853.9 L507.3,855.9 L507.6,857.9 L507.9,859.9 L508.2,861.8 L508.6,863.8 L508.9,865.8 L509.2,867.8 L509.6,869.7 L509.9,871.7 L510.2,873.7 L510.6,875.7 L511.0,877.6 L511.4,879.6 L511.7,881.5 L512.1,883.5 L512.5,885.5 L512.9,887.4 L513.3,889.4 L513.6,891.4 L514.0,893.3 L514.4,895.3 L514.8,897.3 L515.1,899.2 L515.5,901.2 L515.8,903.2 L516.1,905.2 L516.4,907.1 L516.8,909.1 L517.1,911.1 L517.4,913.1 L517.7,915.0 L518.0,917.0 L518.3,919.0 L518.5,921.0 L518.8,923.0 L519.1,924.9 L519.4,926.9 L519.7,928.9 L520.0,930.9 L520.2,932.9 L520.5,934.8 L520.8,936.8 L521.1,938.8 L521.3,940.8 L521.6,942.8 L521.9,944.8 L522.1,946.7 L522.4,948.7 L522.7,950.7 L522.9,952.7 L523.2,954.7 L523.4,956.7 L523.7,958.7 L523.9,960.6 L524.2,962.6 L524.4,964.6 L524.7,966.6 L524.9,968.6 L525.2,970.6 L525.5,972.5 L525.7,974.5 L526.0,976.5 L526.2,978.5 L526.5,980.5 L526.7,982.5 L527.0,984.5 L527.3,986.4 L527.5,988.4 L527.8,990.4 L528.1,992.4 L528.4,994.4 L528.6,996.3 L528.9,998.3 L529.2,1000.3 L529.5,1002.3 L529.8,1004.3 L530.0,1006.3 L530.3,1008.2 L530.6,1010.2 L530.8,1012.2 L531.1,1014.2 L531.3,1016.2 L531.6,1018.2 L531.8,1020.2 L532.0,1022.1 L532.2,1024.1 L532.4,1026.1 L532.6,1028.1 L532.7,1030.1 L532.9,1032.1 L533.1,1034.1 L533.3,1036.1 L533.5,1038.1 L533.6,1040.1 L533.8,1042.1 L534.0,1044.1 L534.1,1046.1 L534.3,1048.1 L534.5,1050.0 L534.7,1052.0 L534.8,1054.0 L535.0,1056.0 L535.2,1058.0 L535.4,1060.0 L535.6,1062.0 L535.8,1064.0 L535.9,1066.0 L536.1,1068.0 L536.3,1070.0 L536.5,1072.0 L536.7,1074.0 L536.9,1076.0 L537.0,1077.9 L537.2,1079.9 L537.4,1081.9 L537.6,1083.9 L537.7,1085.9 L537.9,1087.9 L538.1,1089.9 L538.3,1091.9 L538.4,1093.9 L538.6,1095.9 L538.8,1097.9 L538.9,1099.9 L539.1,1101.9 L539.3,1103.9 L539.4,1105.9 L539.6,1107.9 L539.7,1109.8 L539.9,1111.8 L540.0,1113.8 L540.2,1115.8 L540.4,1117.8 L540.5,1119.8 L540.7,1121.8 L540.8,1123.8 L540.9,1125.8 L541.1,1127.8 L541.2,1129.8 L541.4,1131.8 L541.5,1133.8 L541.6,1135.8 L541.7,1137.8 L541.9,1139.8 L542.0,1141.8 L542.1,1143.8 L542.2,1145.8 L542.3,1147.8 L542.4,1149.8 L542.5,1151.8 L542.6,1153.8 L542.8,1155.8 L542.9,1157.8 L543.0,1159.8 L543.1,1161.8 L543.2,1163.8 L543.3,1165.8 L543.4,1167.8 L543.6,1169.8 L543.7,1171.8 L543.8,1173.7 L544.0,1175.7 L544.1,1177.7 L544.2,1179.7 L544.4,1181.7 L544.5,1183.7 L544.6,1185.7 L544.8,1187.7 L544.9,1189.7 L545.0,1191.7 L545.2,1193.7 L545.3,1195.7 L545.5,1197.7 L545.6,1199.7 L545.7,1201.7 L545.9,1203.7 L546.0,1205.7 L546.1,1207.7 L546.3,1209.7 L546.4,1211.7 L546.5,1213.7 L546.6,1215.7 L546.7,1217.7 L546.8,1219.7 L547.0,1221.7 L547.1,1223.7 L547.2,1225.7 L547.3,1227.7 L547.4,1229.7 L547.5,1231.7 L547.6,1233.7 L547.7,1235.7 L547.8,1237.7 L547.9,1239.7 L548.0,1241.7 L548.1,1243.7 L548.2,1245.6 L548.3,1247.6 L548.4,1249.6 L548.5,1251.6 L548.6,1253.6 L548.8,1255.6 L548.9,1257.6 L549.0,1259.6 L549.1,1261.6 L549.2,1263.6 L549.4,1265.6 L549.5,1267.6 L549.6,1269.6 L549.7,1271.6 L549.8,1273.6 L549.9,1275.6 L550.1,1277.6 L550.2,1279.6 L550.3,1281.6 L550.4,1283.6 L550.4,1285.6 L550.5,1287.6 L550.6,1289.6 L550.7,1291.6 L550.8,1293.6 L550.8,1295.6 L550.9,1297.6 L551.0,1299.6 L551.0,1301.6 L551.1,1303.6 L551.2,1305.6 L551.2,1307.6 L551.3,1309.6 L551.4,1311.6 L551.4,1313.6 L551.5,1315.6 L551.6,1317.6 L551.7,1319.6 L551.7,1321.6 L551.8,1323.6 L551.9,1325.6 L552.0,1327.6 L552.1,1329.6 L552.2,1331.6 L552.3,1333.6 L552.4,1335.6 L552.6,1337.6 L552.7,1339.6 L552.9,1341.6 L553.0,1343.6 L553.2,1345.6 L553.4,1347.6 L553.5,1349.6 L553.7,1351.6 L553.9,1353.5 L554.0,1355.5 L554.2,1357.5 L554.4,1359.5 L554.5,1361.5 L554.6,1363.5 L554.8,1365.5 L554.9,1367.5 L555.0,1369.5 L555.1,1371.5 L555.3,1373.5 L555.4,1375.5 L555.5,1377.5 L555.6,1379.5 L555.7,1381.5 L555.8,1383.5 L555.9,1385.5 L556.0,1387.5 L556.1,1389.5 L556.2,1391.5 L556.3,1393.5 L556.4,1395.5 L556.6,1397.5 L556.7,1399.5 L556.8,1401.5 L556.9,1403.5 L557.0,1405.5 L557.2,1407.5 L557.3,1409.5 L557.4,1411.5 L557.5,1413.5 L557.6,1415.5 L557.8,1417.5 L557.9,1419.5 L558.0,1421.5 L558.1,1423.5 L558.2,1425.5 L558.4,1427.4 L558.5,1429.4 L558.6,1431.4 L558.8,1433.4 L558.9,1435.4 L559.0,1437.4 L559.2,1439.4 L559.3,1441.4 L559.5,1443.4 L559.6,1445.4 L559.7,1447.4 L559.9,1449.4 L560.0,1451.4 L560.1,1453.5 L560.3,1455.5 L560.4,1457.5 L560.5,1459.5 L560.7,1461.5 L560.9,1463.5 L561.1,1465.4 L561.4,1467.4 L561.8,1469.4 L562.3,1471.5 L563.1,1473.6 L564.0,1475.4 L565.1,1476.6 L566.8,1477.4 L568.9,1477.9 L570.9,1478.0 L572.9,1478.0 L574.9,1477.9 L576.8,1477.9 L578.8,1477.8 L580.8,1477.8 L582.8,1477.7 L584.8,1477.6 L586.9,1477.5 L588.9,1477.4 L590.9,1477.3 L592.9,1477.2 L594.9,1477.1 L596.9,1477.0 L598.9,1476.9 L600.9,1476.8 L602.9,1476.7 L604.9,1476.6 L606.9,1476.5 L608.9,1476.4 L610.9,1476.3 L612.9,1476.2 L614.9,1476.1 L616.9,1475.9 L618.9,1475.8 L620.9,1475.7 L622.9,1475.5 L624.9,1475.4 L626.9,1475.3 L628.9,1475.2 L630.9,1475.0 L632.9,1474.9 L634.9,1474.8 L636.9,1474.7 L638.9,1474.5 L640.9,1474.4 L642.9,1474.3 L644.9,1474.2 L646.9,1474.1 L648.9,1474.0 L650.9,1473.9 L652.9,1473.7 L654.9,1473.6 L656.9,1473.5 L658.9,1473.4 L660.9,1473.3 L662.9,1473.2 L664.9,1473.1 L666.9,1473.0 L668.9,1472.8 L670.9,1472.7 L672.8,1472.6 L674.8,1472.5 L676.8,1472.4 L678.8,1472.3 L680.8,1472.2 L682.8,1472.1 L684.8,1472.0 L686.8,1471.9 L688.8,1471.8 L690.8,1471.7 L692.8,1471.6 L694.8,1471.5 L696.8,1471.4 L698.8,1471.3 L700.8,1471.2 L702.8,1471.1 L704.8,1471.0 L706.8,1470.9 L708.8,1470.8 L710.8,1470.7 L712.8,1470.6 L714.8,1470.5 L716.8,1470.4 L718.8,1470.3 L720.8,1470.2 L722.8,1470.1 L724.8,1470.1 L726.8,1470.0 L728.8,1469.9 L730.8,1469.8 L732.8,1469.7 L734.8,1469.6 L736.8,1469.5 L738.8,1469.5 L740.8,1469.4 L742.8,1469.3 L744.8,1469.2 L746.8,1469.1 L748.8,1469.1 L750.8,1469.0 L752.8,1468.9 L754.8,1468.8 L756.8,1468.8 L758.8,1468.7 L760.8,1468.6 L762.8,1468.5 L764.8,1468.4 L766.8,1468.4 L768.8,1468.3 L770.8,1468.2 L772.8,1468.2 L774.8,1468.1 L776.8,1468.0 L778.8,1467.9 L780.8,1467.9 L782.8,1467.8 L784.8,1467.7 L786.8,1467.7 L788.8,1467.6 L790.8,1467.5 L792.8,1467.4 L794.8,1467.4 L796.8,1467.3 L798.8,1467.2 L800.8,1467.2 L802.8,1467.1 L804.8,1467.0 L806.8,1466.9 L808.8,1466.9 L810.8,1466.8 L812.8,1466.7 L814.8,1466.6 L816.8,1466.6 L818.8,1466.5 L820.8,1466.4 L822.8,1466.3 L824.8,1466.3 L826.8,1466.2 L828.8,1466.1 L830.8,1466.0 L832.8,1466.0 L834.8,1465.9 L836.8,1465.8 L838.8,1465.7 L840.8,1465.6 L842.8,1465.6 L844.8,1465.5 L846.8,1465.4 L848.8,1465.3 L850.8,1465.2 L852.8,1465.2 L854.8,1465.1 L856.8,1465.0 L858.8,1464.9 L860.8,1464.8 L862.8,1464.7 L864.8,1464.7 L866.8,1464.6 L868.8,1464.5 L870.8,1464.4 L872.8,1464.3 L874.8,1464.2 L876.8,1464.2 L878.8,1464.1 L880.8,1464.0 L882.8,1463.9 L884.8,1463.8 L886.8,1463.8 L888.8,1463.7 L890.8,1463.6 L892.8,1463.5 L894.8,1463.4 L896.8,1463.3 L898.8,1463.3 L900.8,1463.2 L902.8,1463.1 L904.8,1463.0 L906.8,1463.0 L908.8,1462.9 L910.8,1462.8 L912.8,1462.7 L914.8,1462.7 L916.8,1462.6 L918.8,1462.5 L920.8,1462.4 L922.8,1462.4 L924.8,1462.3 L926.8,1462.2 L928.8,1462.2 L930.8,1462.1 L932.8,1462.0 L934.8,1462.0 L936.8,1461.9 L938.8,1461.8 L940.8,1461.8 L942.8,1461.7 L944.8,1461.6 L946.8,1461.6 L948.8,1461.5 L950.8,1461.5 L952.8,1461.4 L954.8,1461.3 L956.8,1461.3 L958.8,1461.2 L960.8,1461.2 L962.8,1461.2 L964.8,1461.1 L966.8,1461.1 L968.8,1461.0 L970.8,1461.0 L972.8,1460.9 L974.8,1460.9 L976.8,1460.9 L978.8,1460.8 L980.8,1460.8 L982.8,1460.8 L984.8,1460.7 L986.8,1460.7 L988.8,1460.7 L990.8,1460.6 L992.8,1460.6 L994.8,1460.6 L996.8,1460.5 L998.8,1460.5 L1000.8,1460.5 L1002.8,1460.5 L1004.8,1460.4 L1006.8,1460.4 L1008.8,1460.4 L1010.8,1460.4 L1012.8,1460.4 L1014.8,1460.4 L1016.8,1460.3 L1018.8,1460.3 L1020.8,1460.3 L1022.8,1460.3 L1024.8,1460.3 L1026.8,1460.3 L1028.8,1460.2 L1030.8,1460.2 L1032.8,1460.2 L1034.8,1460.2 L1036.8,1460.2 L1038.8,1460.2 L1040.8,1460.1 L1042.8,1460.1 L1044.8,1460.1 L1046.8,1460.1 L1048.8,1460.1 L1050.8,1460.1 L1052.8,1460.0 L1054.8,1460.0 L1056.8,1460.0 L1058.8,1460.0 L1060.8,1460.0 L1062.8,1460.0 L1064.8,1460.0 L1066.8,1459.9 L1068.8,1459.9 L1070.8,1459.9 L1072.8,1459.9 L1074.8,1459.9 L1076.8,1459.9 L1078.8,1459.9 L1080.8,1459.8 L1082.8,1459.8 L1084.8,1459.8 L1086.8,1459.8 L1088.8,1459.8 L1090.8,1459.8 L1092.8,1459.8 L1094.8,1459.8 L1096.8,1459.7 L1098.8,1459.7 L1100.8,1459.7 L1102.8,1459.7 L1104.8,1459.7 L1106.8,1459.7 L1108.8,1459.7 L1110.8,1459.7 L1112.8,1459.7 L1114.8,1459.6 L1116.8,1459.6 L1118.8,1459.6 L1120.8,1459.6 L1122.8,1459.6 L1124.8,1459.6 L1126.8,1459.6 L1128.8,1459.6 L1130.8,1459.6 L1132.8,1459.6 L1134.8,1459.6 L1136.8,1459.5 L1138.9,1459.5 L1140.9,1459.5 L1142.9,1459.5 L1144.9,1459.5 L1146.9,1459.5 L1148.9,1459.5 L1150.9,1459.5 L1152.9,1459.5 L1154.9,1459.5 L1156.9,1459.5 L1158.9,1459.5 L1160.9,1459.5 L1162.9,1459.5 L1164.9,1459.5 L1166.9,1459.5 L1168.9,1459.4 L1170.9,1459.4 L1172.9,1459.4 L1174.9,1459.4 L1176.9,1459.4 L1178.9,1459.4 L1180.9,1459.4 L1182.9,1459.4 L1184.9,1459.4 L1186.9,1459.4 L1188.9,1459.4 L1190.9,1459.4 L1192.9,1459.4 L1194.9,1459.4 L1196.9,1459.4 L1198.9,1459.4 L1200.9,1459.4 L1202.9,1459.4 L1204.9,1459.4 L1206.9,1459.4 L1208.9,1459.4 L1210.9,1459.4 L1212.9,1459.4 L1214.9,1459.4 L1216.9,1459.4 L1218.9,1459.4 L1220.9,1459.4 L1222.9,1459.4 L1224.9,1459.4 L1226.9,1459.4 L1228.9,1459.4 L1230.9,1459.4 L1232.9,1459.5 L1234.9,1459.5 L1236.9,1459.5 L1238.9,1459.5 L1240.9,1459.5 L1242.9,1459.5 L1244.9,1459.5 L1246.9,1459.5 L1248.9,1459.5 L1250.9,1459.5 L1252.9,1459.5 L1254.9,1459.5 L1256.9,1459.5 L1258.9,1459.5 L1260.9,1459.6 L1262.9,1459.6 L1264.9,1459.6 L1266.9,1459.6 L1268.9,1459.6 L1270.9,1459.6 L1272.9,1459.6 L1274.9,1459.6 L1276.9,1459.7 L1278.9,1459.7 L1280.9,1459.7 L1282.9,1459.7 L1284.9,1459.7 L1286.9,1459.7 L1288.9,1459.7 L1290.9,1459.7 L1292.9,1459.8 L1294.9,1459.8 L1296.9,1459.8 L1298.9,1459.8 L1300.9,1459.8 L1302.9,1459.8 L1304.9,1459.8 L1306.9,1459.9 L1308.9,1459.9 L1310.9,1459.9 L1312.9,1459.9 L1314.9,1459.9 L1316.9,1459.9 L1318.9,1459.9 L1320.9,1460.0 L1322.9,1460.0 L1324.9,1460.0 L1326.9,1460.0 L1328.9,1460.0 L1330.9,1460.1 L1332.9,1460.1 L1334.9,1460.1 L1337.0,1460.1 L1339.0,1460.2 L1341.0,1460.2 L1343.0,1460.2 L1345.0,1460.2 L1347.0,1460.3 L1349.0,1460.3 L1351.0,1460.3 L1353.0,1460.3 L1355.0,1460.4 L1357.0,1460.4 L1359.0,1460.4 L1361.0,1460.5 L1363.0,1460.5 L1365.0,1460.5 L1367.0,1460.5 L1369.0,1460.6 L1371.0,1460.6 L1373.0,1460.6 L1375.0,1460.7 L1377.0,1460.7 L1379.0,1460.7 L1381.0,1460.8 L1383.0,1460.8 L1385.0,1460.8 L1387.0,1460.9 L1389.0,1460.9 L1391.0,1460.9 L1393.0,1461.0 L1395.0,1461.0 L1397.0,1461.1 L1399.0,1461.1 L1401.0,1461.1 L1403.0,1461.2 L1405.0,1461.2 L1407.0,1461.2 L1409.0,1461.3 L1411.0,1461.3 L1413.0,1461.3 L1415.0,1461.4 L1417.0,1461.4 L1419.0,1461.5 L1421.0,1461.5 L1423.0,1461.5 L1425.0,1461.6 L1427.0,1461.6 L1429.0,1461.7 L1431.0,1461.7 L1433.0,1461.7 L1435.0,1461.8 L1437.0,1461.8 L1439.0,1461.9 L1441.0,1461.9 L1443.0,1461.9 L1445.0,1462.0 L1447.0,1462.0 L1449.0,1462.1 L1451.0,1462.1 L1453.0,1462.2 L1455.0,1462.2 L1457.0,1462.2 L1459.0,1462.3 L1461.0,1462.3 L1463.0,1462.4 L1465.0,1462.4 L1467.0,1462.5 L1469.0,1462.5 L1471.0,1462.5 L1473.0,1462.6 L1475.0,1462.6 L1477.0,1462.7 L1479.0,1462.7 L1481.0,1462.8 L1483.0,1462.8 L1485.0,1462.9 L1487.0,1462.9 L1489.0,1463.0 L1491.0,1463.0 L1493.0,1463.1 L1495.0,1463.1 L1497.0,1463.2 L1499.0,1463.3 L1501.0,1463.3 L1503.0,1463.4 L1505.0,1463.4 L1507.0,1463.5 L1509.0,1463.5 L1511.0,1463.6 L1513.0,1463.7 L1515.0,1463.7 L1517.0,1463.8 L1519.0,1463.8 L1521.0,1463.9 L1523.0,1464.0 L1525.0,1464.0 L1527.0,1464.1 L1529.0,1464.2 L1531.0,1464.2 L1533.0,1464.3 L1535.0,1464.3 L1537.0,1464.4 L1539.0,1464.5 L1541.0,1464.5 L1543.0,1464.6 L1545.0,1464.7 L1547.0,1464.8 L1549.0,1464.8 L1551.0,1464.9 L1553.0,1465.0 L1555.0,1465.0 L1557.0,1465.1 L1559.0,1465.2 L1561.0,1465.2 L1563.0,1465.3 L1565.0,1465.4 L1567.0,1465.4 L1569.0,1465.5 L1571.0,1465.6 L1573.0,1465.7 L1575.0,1465.7 L1577.0,1465.8 L1579.0,1465.9 L1581.0,1466.0 L1583.0,1466.0 L1585.0,1466.1 L1587.0,1466.2 L1589.0,1466.3 L1591.0,1466.3 L1593.0,1466.4 L1595.0,1466.5 L1597.0,1466.6 L1599.0,1466.6 L1601.0,1466.7 L1603.0,1466.8 L1605.0,1466.9 L1607.0,1466.9 L1609.0,1467.0 L1611.0,1467.1 L1613.0,1467.2 L1615.0,1467.2 L1617.0,1467.3 L1619.0,1467.4 L1621.0,1467.5 L1623.0,1467.5 L1625.0,1467.6 L1627.0,1467.7 L1629.0,1467.8 L1631.0,1467.9 L1633.0,1467.9 L1635.0,1468.0 L1637.0,1468.1 L1639.0,1468.2 L1641.0,1468.2 L1643.0,1468.3 L1645.0,1468.4 L1647.0,1468.5 L1649.0,1468.5 L1651.0,1468.6 L1653.0,1468.7 L1655.0,1468.8 L1657.0,1468.9 L1659.0,1468.9 L1661.0,1469.0 L1663.0,1469.1 L1665.0,1469.2 L1667.0,1469.2 L1669.0,1469.3 L1671.0,1469.4 L1673.0,1469.5 L1675.0,1469.5 L1677.0,1469.6 L1679.0,1469.7 L1681.0,1469.8 L1683.0,1469.9 L1685.0,1469.9 L1687.0,1470.0 L1689.0,1470.1 L1691.0,1470.2 L1693.0,1470.2 L1695.0,1470.3 L1697.0,1470.4 L1699.0,1470.5 L1701.0,1470.5 L1703.0,1470.6 L1705.0,1470.7 L1707.0,1470.8 L1709.0,1470.9 L1711.0,1470.9 L1713.0,1471.0 L1715.0,1471.1 L1717.0,1471.2 L1719.0,1471.3 L1721.0,1471.3 L1723.0,1471.4 L1725.0,1471.5 L1727.0,1471.6 L1729.0,1471.7 L1731.0,1471.7 L1733.0,1471.8 L1735.0,1471.9 L1737.0,1472.0 L1739.0,1472.1 L1741.0,1472.1 L1743.0,1472.2 L1745.0,1472.3 L1747.0,1472.4 L1749.0,1472.5 L1751.0,1472.6 L1753.0,1472.6 L1755.0,1472.7 L1757.0,1472.8 L1759.0,1472.9 L1761.0,1473.0 L1763.0,1473.1 L1765.0,1473.2 L1767.0,1473.2 L1769.0,1473.3 L1771.0,1473.4 L1773.0,1473.5 L1775.0,1473.6 L1777.0,1473.7 L1778.9,1473.8 L1780.9,1473.9 L1782.9,1474.0 L1784.9,1474.1 L1786.9,1474.1 L1788.9,1474.2 L1790.9,1474.3 L1792.9,1474.4 L1794.9,1474.5 L1796.9,1474.6 L1798.9,1474.7 L1800.9,1474.8 L1802.9,1474.9 L1804.9,1475.0 L1806.9,1475.1 L1808.9,1475.2 L1810.9,1475.3 L1812.9,1475.4 L1814.9,1475.5 L1816.9,1475.6 L1818.9,1475.7 L1820.9,1475.8 L1822.9,1475.9 L1824.9,1476.0 L1826.9,1476.1 L1828.9,1476.2 L1830.9,1476.3 L1832.9,1476.4 L1834.9,1476.5 L1836.9,1476.6 L1838.9,1476.7 L1840.9,1476.8 L1842.9,1476.9 L1844.9,1477.0 L1846.9,1477.1 L1848.9,1477.2 L1850.9,1477.3" stroke="#0f0" stroke-dasharray="10.5 28 49 28" stroke-dashoffset="0.00"/>
<path d="M1850.9,1477.3 L1853.0,1477.4 L1855.0,1477.5 L1857.0,1477.6 L1859.0,1477.7 L1861.0,1477.8 L1863.0,1477.9 L1865.0,1478.0 L1867.0,1478.1 L1869.0,1478.3 L1871.0,1478.4 L1873.0,1478.6 L1875.0,1478.8 L1876.9,1479.0 L1878.9,1479.2 L1880.8,1479.6 L1882.7,1480.3 L1884.7,1480.5 L1886.6,1480.5 L1888.7,1480.5 L1890.7,1480.5 L1892.7,1480.5 L1894.7,1480.5 L1896.7,1480.5 L1898.7,1480.4 L1900.7,1480.1 L1902.7,1479.7 L1904.6,1479.2 L1906.5,1478.7 L1908.4,1477.9 L1910.2,1476.9 L1911.9,1475.9 L1913.5,1474.7 L1915.1,1473.5 L1916.6,1472.0 L1917.8,1470.5 L1918.8,1468.9 L1919.7,1467.2 L1920.5,1465.3 L1921.3,1463.4 L1922.1,1461.5 L1922.8,1459.6 L1923.5,1457.7 L1924.2,1455.9 L1924.8,1454.0 L1925.5,1452.1 L1926.1,1450.2 L1926.7,1448.3 L1927.3,1446.4 L1927.9,1444.4 L1928.5,1442.5 L1929.1,1440.6 L1929.7,1438.7 L1930.3,1436.8 L1930.8,1434.9 L1931.4,1432.9 L1932.0,1431.0 L1932.5,1429.1 L1933.1,1427.2 L1933.7,1425.3 L1934.2,1423.3 L1934.8,1421.4 L1935.3,1419.5 L1935.8,1417.6 L1936.4,1415.6 L1936.9,1413.7 L1937.4,1411.8 L1938.0,1409.8 L1938.5,1407.9 L1939.0,1406.0 L1939.6,1404.1 L1940.1,1402.1 L1940.7,1400.2 L1941.2,1398.3 L1941.7,1396.3 L1942.3,1394.4 L1942.8,1392.5 L1943.4,1390.6 L1943.9,1388.6 L1944.5,1386.7 L1945.0,1384.8 L1945.5,1382.8 L1946.1,1380.9 L1946.6,1379.0 L1947.1,1377.0 L1947.6,1375.1 L1948.1,1373.2 L1948.5,1371.2 L1949.0,1369.3 L1949.5,1367.3 L1949.9,1365.4 L1950.3,1363.4 L1950.7,1361.5 L1951.1,1359.5 L1951.5,1357.6 L1951.9,1355.6 L1952.3,1353.6 L1952.7,1351.7 L1953.1,1349.7 L1953.4,1347.7 L1953.8,1345.8 L1954.2,1343.8 L1954.5,1341.8 L1954.8,1339.8 L1955.1,1337.8 L1955.4,1335.9 L1955.7,1333.9 L1955.9,1331.9 L1956.2,1329.9 L1956.4,1327.9 L1956.6,1325.9 L1956.7,1323.9 L1956.9,1322.0 L1957.0,1320.0 L1957.2,1318.0 L1957.3,1316.0 L1957.4,1314.0 L1957.6,1312.0 L1957.7,1310.0 L1957.8,1308.0 L1957.9,1306.0 L1958.0,1304.0 L1958.1,1302.0 L1958.2,1300.0 L1958.3,1298.0 L1958.5,1296.0 L1958.6,1294.0 L1958.7,1292.0 L1958.8,1290.0 L1959.0,1288.0 L1959.1,1286.0 L1959.2,1284.0 L1959.3,1282.0 L1959.5,1280.0 L1959.6,1278.0 L1959.7,1276.0 L1959.9,1274.0 L1960.0,1272.0 L1960.1,1270.0 L1960.2,1268.0 L1960.4,1266.0 L1960.5,1264.0 L1960.6,1262.0 L1960.7,1260.0 L1960.8,1258.0 L1961.0,1256.0 L1961.1,1254.0 L1961.2,1252.0 L1961.3,1250.0 L1961.4,1248.0 L1961.6,1246.0 L1961.7,1244.1 L1961.8,1242.1 L1961.9,1240.1 L1962.1,1238.1 L1962.2,1236.1 L1962.3,1234.1 L1962.4,1232.1 L1962.6,1230.1 L1962.7,1228.1 L1962.8,1226.1 L1962.9,1224.1 L1963.0,1222.1 L1963.1,1220.1 L1963.2,1218.1 L1963.3,1216.1 L1963.4,1214.1 L1963.5,1212.1 L1963.6,1210.1 L1963.7,1208.1 L1963.7,1206.1 L1963.8,1204.1 L1963.8,1202.1 L1963.9,1200.1 L1964.0,1198.1 L1964.0,1196.1 L1964.1,1194.1 L1964.1,1192.1 L1964.2,1190.1 L1964.2,1188.1 L1964.3,1186.1 L1964.3,1184.1 L1964.4,1182.1 L1964.5,1180.1 L1964.5,1178.1 L1964.6,1176.1 L1964.7,1174.1 L1964.7,1172.1 L1964.8,1170.1 L1964.9,1168.1 L1965.0,1166.1 L1965.1,1164.1 L1965.2,1162.1 L1965.2,1160.1 L1965.3,1158.1 L1965.4,1156.1 L1965.5,1154.1 L1965.6,1152.1 L1965.7,1150.1 L1965.8,1148.1 L1965.9,1146.1 L1966.0,1144.1 L1966.1,1142.1 L1966.2,1140.1 L1966.2,1138.1 L1966.3,1136.1 L1966.4,1134.1 L1966.5,1132.1 L1966.6,1130.1 L1966.7,1128.1 L1966.8,1126.1 L1966.9,1124.1 L1967.0,1122.1 L1967.0,1120.1 L1967.1,1118.1 L1967.2,1116.1 L1967.3,1114.1 L1967.4,1112.1 L1967.5,1110.1 L1967.6,1108.1 L1967.7,1106.1 L1967.8,1104.1 L1967.9,1102.1 L1967.9,1100.1 L1968.0,1098.1 L1968.1,1096.1 L1968.2,1094.1 L1968.3,1092.1 L1968.4,1090.1 L1968.4,1088.1 L1968.5,1086.1 L1968.6,1084.1 L1968.7,1082.1 L1968.7,1080.1 L1968.8,1078.1 L1968.9,1076.1 L1969.0,1074.1 L1969.0,1072.1 L1969.1,1070.1 L1969.2,1068.1 L1969.3,1066.1 L1969.4,1064.1 L1969.5,1062.1 L1969.6,1060.1 L1969.7,1058.1 L1969.8,1056.1 L1969.9,1054.1 L1970.0,1052.1 L1970.1,1050.1 L1970.2,1048.1 L1970.3,1046.1 L1970.4,1044.1 L1970.6,1042.1 L1970.7,1040.1 L1970.8,1038.1 L1970.9,1036.2 L1971.1,1034.2 L1971.2,1032.2 L1971.3,1030.2 L1971.5,1028.2 L1971.6,1026.2 L1971.7,1024.2 L1971.9,1022.2 L1972.0,1020.2 L1972.2,1018.2 L1972.3,1016.2 L1972.5,1014.2 L1972.7,1012.2 L1972.8,1010.2 L1973.0,1008.2 L1973.2,1006.2 L1973.4,1004.2 L1973.6,1002.2 L1973.8,1000.3 L1974.0,998.3 L1974.2,996.3 L1974.5,994.3 L1974.7,992.3 L1974.9,990.3 L1975.1,988.3 L1975.3,986.3 L1975.6,984.3 L1975.8,982.4 L1976.0,980.4 L1976.2,978.4 L1976.4,976.4 L1976.7,974.4 L1976.9,972.4 L1977.1,970.4 L1977.3,968.4 L1977.5,966.4 L1977.8,964.5 L1978.0,962.5 L1978.2,960.5 L1978.4,958.5 L1978.7,956.5 L1978.9,954.5 L1979.1,952.5 L1979.4,950.5 L1979.6,948.5 L1979.8,946.6 L1980.1,944.6 L1980.3,942.6 L1980.5,940.6 L1980.8,938.6 L1981.0,936.6 L1981.2,934.6 L1981.5,932.6 L1981.7,930.7 L1981.9,928.7 L1982.2,926.7 L1982.4,924.7 L1982.6,922.7 L1982.9,920.7 L1983.1,918.7 L1983.4,916.8 L1983.6,914.8 L1983.9,912.8 L1984.1,910.8 L1984.4,908.8 L1984.6,906.8 L1984.9,904.8 L1985.1,902.9 L1985.4,900.9 L1985.7,898.9 L1985.9,896.9 L1986.2,894.9 L1986.5,893.0 L1986.8,891.0 L1987.1,889.0 L1987.4,887.0 L1987.7,885.0 L1988.0,883.1 L1988.3,881.1 L1988.6,879.1 L1988.9,877.1 L1989.3,875.1 L1989.6,873.2 L1989.9,871.2 L1990.1,869.2 L1990.4,867.2 L1990.7,865.3 L1991.0,863.3 L1991.3,861.3 L1991.6,859.3 L1991.8,857.3 L1992.1,855.3 L1992.4,853.4 L1992.7,851.4 L1992.9,849.4 L1993.2,847.4 L1993.5,845.4 L1993.7,843.4 L1994.0,841.5 L1994.3,839.5 L1994.6,837.5 L1994.8,835.5 L1995.1,833.5 L1995.4,831.6 L1995.6,829.6 L1995.9,827.6 L1996.1,825.6 L1996.4,823.6 L1996.7,821.6 L1996.9,819.6 L1997.2,817.7 L1997.4,815.7 L1997.7,813.7 L1997.9,811.7 L1998.2,809.7 L1998.4,807.7 L1998.7,805.7 L1999.0,803.8 L1999.2,801.8 L1999.5,799.8 L1999.7,797.8 L2000.0,795.8 L2000.3,793.8 L2000.6,791.9 L2000.8,789.9 L2001.1,787.9 L2001.4,785.9 L2001.7,783.9 L2002.0,782.0 L2002.3,780.0 L2002.6,778.0 L2002.9,776.0 L2003.2,774.1 L2003.6,772.1 L2003.9,770.1 L2004.2,768.1 L2004.5,766.2 L2004.9,764.2 L2005.2,762.2 L2005.6,760.2 L2005.9,758.3 L2006.2,756.3 L2006.6,754.3 L2007.0,752.4 L2007.3,750.4 L2007.7,748.4 L2008.1,746.5 L2008.4,744.5 L2008.8,742.5 L2009.2,740.6 L2009.6,738.6 L2010.0,736.7 L2010.4,734.7 L2010.8,732.7 L2011.2,730.8 L2011.6,728.8 L2012.0,726.8 L2012.4,724.9 L2012.8,722.9 L2013.2,721.0 L2013.6,719.0 L2014.0,717.0 L2014.4,715.1 L2014.7,713.1 L2015.1,711.1 L2015.5,709.2 L2015.9,707.2 L2016.2,705.2 L2016.6,703.3 L2017.0,701.3 L2017.4,699.3 L2017.7,697.4 L2018.1,695.4 L2018.5,693.4 L2018.8,691.5 L2019.2,689.5 L2019.6,687.5 L2020.0,685.6 L2020.4,683.6 L2020.8,681.7 L2021.2,679.7 L2021.6,677.7 L2022.0,675.8 L2022.4,673.8 L2022.8,671.9 L2023.2,669.9 L2023.6,668.0 L2024.1,666.0 L2024.5,664.1 L2025.0,662.1 L2025.4,660.2 L2025.9,658.2 L2026.3,656.3 L2026.8,654.3 L2027.3,652.4 L2027.7,650.4 L2028.2,648.5 L2028.7,646.5 L2029.1,644.6 L2029.6,642.6 L2030.1,640.7 L2030.6,638.7 L2031.0,636.8 L2031.5,634.9 L2032.0,632.9 L2032.4,631.0 L2032.9,629.0 L2033.4,627.1 L2033.9,625.1 L2034.3,623.2 L2034.8,621.2 L2035.3,619.3 L2035.8,617.4 L2036.3,615.4 L2036.8,613.5 L2037.2,611.5 L2037.7,609.6 L2038.2,607.7 L2038.7,605.7 L2039.2,603.8 L2039.7,601.8 L2040.2,599.9 L2040.7,598.0 L2041.2,596.0 L2041.7,594.1 L2042.2,592.1 L2042.6,590.2 L2043.1,588.3 L2043.6,586.3 L2044.1,584.4 L2044.6,582.4 L2045.1,580.5 L2045.6,578.6 L2046.1,576.6 L2046.7,574.7 L2047.2,572.8 L2047.7,570.8 L2048.2,568.9 L2048.7,567.0 L2049.3,565.0 L2049.8,563.1 L2050.4,561.2 L2050.9,559.3 L2051.5,557.4 L2052.1,555.4 L2052.6,553.5 L2053.2,551.6 L2053.8,549.7 L2054.4,547.8 L2055.0,545.9 L2055.6,544.0 L2056.2,542.1 L2056.9,540.2 L2057.5,538.3 L2058.1,536.4 L2058.7,534.5 L2059.4,532.6 L2060.0,530.7 L2060.6,528.8 L2061.2,526.9 L2061.9,525.0 L2062.5,523.1 L2063.1,521.2 L2063.7,519.2 L2064.3,517.3 L2065.0,515.4 L2065.6,513.5 L2066.2,511.6 L2066.9,509.7 L2067.5,507.8 L2068.1,505.9 L2068.8,504.1 L2069.4,502.2 L2070.1,500.3 L2070.8,498.4 L2071.4,496.5 L2072.1,494.6 L2072.8,492.8 L2073.5,490.9 L2074.2,489.0 L2074.9,487.1 L2075.7,485.3 L2076.4,483.4 L2077.1,481.5 L2077.8,479.7 L2078.6,477.8 L2079.3,476.0 L2080.1,474.1 L2080.8,472.2 L2081.6,470.4 L2082.3,468.5 L2083.1,466.7 L2083.9,464.8 L2084.7,463.0 L2085.4,461.2 L2086.2,459.3 L2087.0,457.5 L2087.8,455.6 L2088.6,453.8 L2089.4,452.0 L2090.2,450.1 L2091.0,448.3 L2091.9,446.5 L2092.7,444.7 L2093.5,442.8 L2094.3,441.0 L2095.2,439.2 L2096.0,437.4 L2096.9,435.6 L2097.8,433.8 L2098.6,432.0 L2099.5,430.2 L2100.4,428.4 L2101.3,426.6 L2102.2,424.8 L2103.1,423.0 L2104.1,421.3 L2105.0,419.5 L2105.9,417.7 L2106.9,416.0 L2107.8,414.2 L2108.8,412.5 L2109.8,410.7 L2110.8,409.0 L2111.8,407.2 L2112.8,405.5 L2113.8,403.7 L2114.8,402.0 L2115.8,400.3 L2116.9,398.6 L2117.9,396.9 L2119.0,395.2 L2120.1,393.5 L2121.2,391.9 L2122.3,390.2 L2123.4,388.6 L2124.5,386.9 L2125.7,385.3 L2126.8,383.7 L2128.0,382.1 L2129.2,380.4 L2130.4,378.8 L2131.6,377.3 L2132.8,375.7 L2134.1,374.1 L2135.3,372.5 L2136.6,371.0 L2137.9,369.4 L2139.2,367.9 L2140.5,366.3 L2141.8,364.8 L2143.1,363.3" stroke="#0f0" stroke-dasharray="10.5 28 49 28" stroke-dashoffset="16.49"/>
<path d="M223.0,386.8 L224.6,387.9 L226.3,389.1 L227.9,390.2 L229.6,391.4 L231.2,392.5 L232.8,393.7 L234.4,394.9 L236.0,396.2 L237.5,397.4 L239.1,398.7 L240.7,399.8 L242.4,401.0 L244.2,402.0 L246.0,402.7 L247.9,403.2 L249.9,403.5 L251.9,403.7 L253.9,403.7 L255.9,403.5 L257.9,403.3 L259.9,403.1 L262.0,402.8 L263.9,402.3 L265.7,401.8 L267.2,400.8 L268.7,399.6 L270.1,398.1 L271.5,396.4 L272.8,394.8 L274.2,393.2 L275.6,391.7 L277.0,390.3 L278.4,388.8 L279.8,387.4 L281.2,386.0 L282.7,384.6 L284.2,383.3 L285.7,382.1 L287.4,380.9 L289.2,380.1 L291.1,379.6 L293.1,379.8 L295.1,380.2 L297.1,380.6 L299.0,381.0 L301.0,381.4 L302.9,381.9 L304.9,382.3 L306.8,382.8 L308.8,383.3 L310.7,383.8 L312.7,384.2 L314.8,384.7 L316.8,385.2 L318.6,385.8 L320.3,386.5 L321.8,387.4 L323.2,388.6 L324.5,390.0 L325.7,391.6 L326.9,393.3 L328.1,395.1 L329.2,396.9 L330.3,398.8 L331.4,400.6 L332.5,402.3 L333.7,404.0 L334.8,405.6 L335.9,407.3 L336.9,409.0 L338.0,410.7 L339.0,412.4 L340.0,414.1 L341.1,415.9 L342.1,417.6 L343.1,419.3 L344.1,421.0 L345.1,422.8 L346.1,424.5 L347.1,426.2 L348.2,427.9 L349.2,429.7 L350.2,431.4 L351.2,433.1 L352.3,434.8 L353.3,436.6 L354.3,438.3 L355.3,440.0 L356.3,441.8 L357.3,443.5 L358.2,445.3 L359.2,447.0 L360.1,448.8 L361.1,450.5 L362.0,452.3 L362.9,454.1 L363.7,455.9 L364.6,457.7 L365.5,459.5 L366.3,461.3 L367.2,463.1 L368.0,464.9 L368.9,466.7 L369.7,468.5 L370.5,470.4 L371.4,472.2 L372.2,474.0 L373.0,475.9 L373.8,477.7 L374.6,479.5 L375.4,481.4 L376.2,483.2 L376.9,485.1 L377.7,486.9 L378.5,488.7 L379.3,490.6 L380.0,492.4 L380.8,494.3 L381.6,496.1 L382.3,498.0 L383.1,499.8 L383.8,501.7 L384.6,503.5 L385.3,505.4 L386.0,507.3 L386.8,509.1 L387.5,511.0 L388.2,512.9 L388.9,514.7 L389.6,516.6 L390.3,518.5 L391.0,520.3 L391.7,522.2 L392.4,524.1 L393.1,526.0 L393.8,527.9 L394.5,529.7 L395.2,531.6 L395.9,533.5 L396.6,535.4 L397.3,537.2 L397.9,539.1 L398.6,541.0 L399.3,542.9 L400.0,544.8 L400.6,546.7 L401.3,548.5 L401.9,550.4 L402.6,552.3 L403.2,554.2 L403.9,556.1 L404.5,558.0 L405.1,559.9 L405.7,561.8 L406.3,563.7 L406.9,565.6 L407.5,567.6 L408.0,569.5 L408.6,571.4 L409.2,573.3 L409.7,575.2 L410.3,577.2 L410.8,579.1 L411.4,581.0 L411.9,582.9 L412.5,584.8 L413.0,586.8 L413.6,588.7 L414.1,590.6 L414.7,592.5 L415.2,594.5 L415.8,596.4 L416.3,598.3 L416.9,600.2 L417.4,602.2 L418.0,604.1 L418.6,606.0 L419.2,607.9 L419.7,609.8 L420.3,611.7 L420.9,613.7 L421.5,615.6 L422.1,617.5 L422.7,619.4 L423.3,621.3 L423.9,623.2 L424.4,625.1 L425.0,627.0 L425.5,629.0 L426.1,630.9 L426.6,632.8 L427.1,634.8 L427.6,636.7 L428.1,638.6 L428.6,640.6 L429.1,642.5 L429.6,644.4 L430.1,646.4 L430.5,648.3 L431.0,650.3 L431.5,652.2 L431.9,654.2 L432.4,656.1 L432.8,658.1 L433.3,660.0 L433.8,662.0 L434.2,663.9 L434.7,665.9 L435.1,667.8 L435.6,669.8 L436.0,671.7 L436.5,673.7 L436.9,675.6 L437.4,677.6 L437.8,679.5 L438.3,681.4 L438.7,683.4 L439.2,685.3 L439.7,687.3 L440.1,689.2 L440.6,691.2 L441.0,693.1 L441.5,695.1 L441.9,697.0 L442.4,699.0 L442.8,700.9 L443.3,702.9 L443.7,704.8 L444.2,706.8 L444.6,708.7 L445.1,710.7 L445.5,712.6 L446.0,714.6 L446.4,716.5 L446.9,718.5 L447.3,720.4 L447.8,722.4 L448.2,724.3 L448.7,726.3 L449.1,728.2 L449.6,730.2 L450.0,732.1 L450.5,734.1 L450.9,736.0 L451.3,738.0 L451.7,739.9 L452.1,741.9 L452.5,743.8 L452.9,745.8 L453.3,747.8 L453.7,749.7 L454.1,751.7 L454.5,753.7 L454.8,755.6 L455.2,757.6 L455.5,759.6 L455.9,761.5 L456.2,763.5 L456.6,765.5 L456.9,767.4 L457.3,769.4 L457.6,771.4 L458.0,773.3 L458.3,775.3 L458.6,777.3 L459.0,779.3 L459.3,781.2 L459.7,783.2 L460.0,785.2 L460.4,787.1 L460.7,789.1 L461.1,791.1 L461.4,793.0 L461.8,795.0 L462.2,797.0 L462.5,798.9 L462.9,800.9 L463.3,802.9 L463.6,804.8 L464.0,806.8 L464.4,808.8 L464.7,810.7 L465.1,812.7 L465.5,814.7 L465.8,816.6 L466.2,818.6 L466.5,820.6 L466.9,822.5 L467.2,824.5 L467.6,826.5 L467.9,828.5 L468.2,830.4 L468.6,832.4 L468.9,834.4 L469.3,836.3 L469.6,838.3 L469.9,840.3 L470.2,842.3 L470.6,844.2 L470.9,846.2 L471.2,848.2 L471.6,850.2 L471.9,852.1 L472.2,854.1 L472.5,856.1 L472.9,858.1 L473.2,860.0 L473.5,862.0 L473.8,864.0 L474.1,865.9 L474.5,867.9 L474.8,869.9 L475.1,871.9 L475.4,873.8 L475.8,875.8 L476.1,877.8 L476.4,879.8 L476.7,881.7 L477.0,883.7 L477.3,885.7 L477.7,887.7 L478.0,889.6 L478.3,891.6 L478.6,893.6 L478.9,895.6 L479.2,897.5 L479.6,899.5 L479.9,901.5 L480.2,903.5 L480.5,905.4 L480.9,907.4 L481.2,909.4 L481.5,911.4 L481.8,913.3 L482.2,915.3 L482.5,917.3 L482.8,919.3 L483.1,921.2 L483.5,923.2 L483.8,925.2 L484.1,927.2 L484.4,929.1 L484.7,931.1 L485.0,933.1 L485.3,935.1 L485.6,937.0 L485.8,939.0 L486.1,941.0 L486.4,943.0 L486.7,945.0 L486.9,946.9 L487.2,948.9 L487.4,950.9 L487.7,952.9 L488.0,954.9 L488.2,956.9 L488.5,958.8 L488.7,960.8 L489.0,962.8 L489.2,964.8 L489.5,966.8 L489.7,968.8 L489.9,970.8 L490.2,972.7 L490.4,974.7 L490.7,976.7 L490.9,978.7 L491.1,980.7 L491.4,982.7 L491.6,984.7 L491.9,986.6 L492.1,988.6 L492.3,990.6 L492.5,992.6 L492.8,994.6 L493.0,996.6 L493.2,998.6 L493.5,1000.6 L493.7,1002.5 L493.9,1004.5 L494.1,1006.5 L494.3,1008.5 L494.5,1010.5 L494.8,1012.5 L495.0,1014.5 L495.2,1016.5 L495.4,1018.5 L495.6,1020.4 L495.8,1022.4 L496.0,1024.4 L496.3,1026.4 L496.5,1028.4 L496.7,1030.4 L496.9,1032.4 L497.1,1034.4 L497.3,1036.4 L497.5,1038.3 L497.7,1040.3 L497.9,1042.3 L498.1,1044.3 L498.3,1046.3 L498.5,1048.3 L498.7,1050.3 L498.9,1052.3 L499.1,1054.3 L499.3,1056.3 L499.5,1058.2 L499.7,1060.2 L499.9,1062.2 L500.1,1064.2 L500.3,1066.2 L500.5,1068.2 L500.7,1070.2 L500.8,1072.2 L501.0,1074.2 L501.2,1076.2 L501.4,1078.2 L501.6,1080.1 L501.8,1082.1 L502.0,1084.1 L502.1,1086.1 L502.3,1088.1 L502.5,1090.1 L502.7,1092.1 L502.8,1094.1 L503.0,1096.1 L503.2,1098.1 L503.4,1100.1 L503.5,1102.1 L503.7,1104.1 L503.9,1106.0 L504.1,1108.0 L504.2,1110.0 L504.4,1112.0 L504.6,1114.0 L504.7,1116.0 L504.9,1118.0 L505.0,1120.0 L505.2,1122.0 L505.3,1124.0 L505.5,1126.0 L505.6,1128.0 L505.8,1130.0 L505.9,1132.0 L506.0,1134.0 L506.2,1136.0 L506.3,1138.0 L506.4,1140.0 L506.6,1141.9 L506.7,1143.9 L506.8,1145.9 L506.9,1147.9 L507.0,1149.9 L507.2,1151.9 L507.3,1153.9 L507.4,1155.9 L507.5,1157.9 L507.6,1159.9 L507.8,1161.9 L507.9,1163.9 L508.0,1165.9 L508.1,1167.9 L508.3,1169.9 L508.4,1171.9 L508.5,1173.9 L508.7,1175.9 L508.8,1177.9 L509.0,1179.9 L509.1,1181.9 L509.3,1183.9 L509.4,1185.9 L509.6,1187.9 L509.7,1189.8 L509.9,1191.8 L510.0,1193.8 L510.1,1195.8 L510.3,1197.8 L510.4,1199.8 L510.5,1201.8 L510.6,1203.8 L510.7,1205.8 L510.8,1207.8 L510.9,1209.8 L511.0,1211.8 L511.1,1213.8 L511.2,1215.8 L511.3,1217.8 L511.4,1219.8 L511.5,1221.8 L511.5,1223.8 L511.6,1225.8 L511.7,1227.8 L511.8,1229.8 L511.8,1231.8 L511.9,1233.8 L512.0,1235.8 L512.1,1237.8 L512.2,1239.8 L512.2,1241.8 L512.3,1243.8 L512.4,1245.8 L512.5,1247.8 L512.6,1249.8 L512.7,1251.8 L512.8,1253.8 L512.9,1255.8 L513.0,1257.8 L513.1,1259.8 L513.2,1261.8 L513.3,1263.8 L513.5,1265.8 L513.6,1267.8 L513.7,1269.7 L513.8,1271.7 L513.9,1273.7 L514.1,1275.7 L514.2,1277.7 L514.3,1279.7 L514.4,1281.7 L514.5,1283.7 L514.6,1285.7 L514.8,1287.7 L514.9,1289.7 L515.0,1291.7 L515.1,1293.7 L515.2,1295.7 L515.3,1297.7 L515.5,1299.7 L515.6,1301.7 L515.7,1303.7 L515.8,1305.7 L515.9,1307.7 L516.0,1309.7 L516.1,1311.7 L516.3,1313.7 L516.4,1315.7 L516.5,1317.7 L516.6,1319.7 L516.7,1321.7 L516.8,1323.7 L516.9,1325.7 L517.0,1327.7 L517.1,1329.7 L517.2,1331.7 L517.3,1333.7 L517.4,1335.6 L517.5,1337.6 L517.6,1339.6 L517.7,1341.6 L517.8,1343.6 L517.9,1345.6 L518.0,1347.6 L518.1,1349.6 L518.2,1351.6 L518.3,1353.6 L518.4,1355.6 L518.5,1357.6 L518.6,1359.6 L518.7,1361.6 L518.9,1363.6 L519.0,1365.6 L519.1,1367.6 L519.2,1369.6 L519.3,1371.6 L519.4,1373.6 L519.5,1375.6 L519.6,1377.6 L519.7,1379.6 L519.8,1381.6 L519.9,1383.6 L520.0,1385.6 L520.1,1387.6 L520.2,1389.6 L520.3,1391.6 L520.4,1393.6 L520.5,1395.6 L520.7,1397.6 L520.8,1399.6 L520.9,1401.6 L521.1,1403.6 L521.2,1405.5 L521.4,1407.5 L521.5,1409.5 L521.7,1411.5 L521.9,1413.5 L522.0,1415.5 L522.2,1417.5 L522.4,1419.5 L522.6,1421.5 L522.7,1423.5 L522.9,1425.5 L523.1,1427.5 L523.3,1429.5 L523.4,1431.5 L523.6,1433.4 L523.8,1435.4 L524.0,1437.4 L524.2,1439.4 L524.3,1441.4 L524.5,1443.4 L524.7,1445.4 L524.9,1447.4 L525.0,1449.4 L525.2,1451.4 L525.3,1453.4 L525.5,1455.4 L525.7,1457.4 L525.8,1459.4 L526.1,1461.4 L526.3,1463.3 L526.5,1465.3 L526.8,1467.4 L527.2,1469.6 L527.5,1471.8 L528.0,1473.7 L528.7,1475.4 L529.6,1476.6 L531.4,1477.8 L533.5,1478.5 L535.4,1478.5 L537.3,1478.5 L539.2,1478.5 L541.2,1478.5 L543.2,1478.5 L545.2,1478.5 L547.2,1478.5 L549.3,1478.5 L551.3,1478.5 L553.4,1478.5 L555.4,1478.5 L557.4,1478.5 L559.5,1478.5 L561.5,1478.5 L563.5,1478.4 L565.5,1478.4 L567.4,1478.4 L569.4,1478.3 L571.4,1478.3 L573.4,1478.2 L575.4,1478.1 L577.4,1478.0 L579.4,1477.9 L581.4,1477.8 L583.4,1477.7 L585.4,1477.6 L587.4,1477.5 L589.4,1477.4 L591.4,1477.3 L593.4,1477.2 L595.4,1477.1 L597.4,1477.0 L599.4,1476.9 L601.4,1476.8 L603.4,1476.7 L605.4,1476.6 L607.4,1476.5 L609.4,1476.4 L611.4,1476.3 L613.4,1476.1 L615.4,1476.0 L617.4,1475.9 L619.4,1475.8 L621.4,1475.6 L623.4,1475.5 L625.4,1475.4 L627.4,1475.3 L629.4,1475.1 L631.4,1475.0 L633.4,1474.9 L635.4,1474.8 L637.4,1474.6 L639.4,1474.5 L641.4,1474.4 L643.3,1474.3 L645.3,1474.2 L647.3,1474.1 L649.3,1473.9 L651.3,1473.8 L653.3,1473.7 L655.3,1473.6 L657.3,1473.5 L659.3,1473.4 L661.3,1473.3 L663.3,1473.1 L665.3,1473.0 L667.3,1472.9 L669.3,1472.8 L671.3,1472.7 L673.3,1472.6 L675.3,1472.5 L677.3,1472.4 L679.3,1472.3 L681.3,1472.2 L683.3,1472.1 L685.3,1472.0 L687.3,1471.9 L689.3,1471.8 L691.3,1471.7 L693.3,1471.6 L695.3,1471.5 L697.3,1471.4 L699.3,1471.3 L701.3,1471.2 L703.3,1471.1 L705.3,1471.0 L707.3,1470.9 L709.3,1470.8 L711.3,1470.7 L713.3,1470.6 L715.3,1470.5 L717.3,1470.4 L719.2,1470.3 L721.2,1470.2 L723.2,1470.1 L725.2,1470.0 L727.2,1469.9 L729.2,1469.9 L731.2,1469.8 L733.2,1469.7 L735.2,1469.6 L737.2,1469.5 L739.2,1469.4 L741.2,1469.4 L743.2,1469.3 L745.2,1469.2 L747.2,1469.1 L749.2,1469.0 L751.2,1469.0 L753.2,1468.9 L755.2,1468.8 L757.2,1468.7 L759.2,1468.7 L761.2,1468.6 L763.2,1468.5 L765.2,1468.4 L767.2,1468.4 L769.2,1468.3 L771.2,1468.2 L773.2,1468.1 L775.2,1468.1 L777.2,1468.0 L779.2,1467.9 L781.2,1467.9 L783.2,1467.8 L785.2,1467.7 L787.2,1467.6 L789.2,1467.6 L791.2,1467.5 L793.2,1467.4 L795.2,1467.4 L797.2,1467.3 L799.2,1467.2 L801.2,1467.1 L803.2,1467.1 L805.2,1467.0 L807.2,1466.9 L809.2,1466.8 L811.2,1466.8 L813.2,1466.7 L815.2,1466.6 L817.2,1466.5 L819.2,1466.5 L821.2,1466.4 L823.2,1466.3 L825.2,1466.2 L827.2,1466.2 L829.2,1466.1 L831.2,1466.0 L833.2,1465.9 L835.2,1465.9 L837.2,1465.8 L839.2,1465.7 L841.2,1465.6 L843.2,1465.5 L845.2,1465.5 L847.2,1465.4 L849.2,1465.3 L851.2,1465.2 L853.2,1465.1 L855.2,1465.1 L857.2,1465.0 L859.2,1464.9 L861.2,1464.8 L863.1,1464.7 L865.1,1464.6 L867.1,1464.6 L869.1,1464.5 L871.1,1464.4 L873.1,1464.3 L875.1,1464.2 L877.1,1464.1 L879.1,1464.1 L881.1,1464.0 L883.1,1463.9 L885.1,1463.8 L887.1,1463.7 L889.1,1463.7 L891.1,1463.6 L893.1,1463.5 L895.1,1463.4 L897.1,1463.3 L899.1,1463.3 L901.1,1463.2 L903.1,1463.1 L905.1,1463.0 L907.1,1462.9 L909.1,1462.9 L911.1,1462.8 L913.1,1462.7 L915.1,1462.6 L917.1,1462.6 L919.1,1462.5 L921.1,1462.4 L923.1,1462.4 L925.1,1462.3 L927.1,1462.2 L929.1,1462.1 L931.1,1462.1 L933.1,1462.0 L935.1,1461.9 L937.1,1461.9 L939.1,1461.8 L941.1,1461.7 L943.1,1461.7 L945.1,1461.6 L947.1,1461.6 L949.1,1461.5 L951.1,1461.4 L953.1,1461.4 L955.1,1461.3 L957.1,1461.3 L959.1,1461.2 L961.1,1461.2 L963.1,1461.1 L965.1,1461.1 L967.1,1461.1 L969.1,1461.0 L971.1,1461.0 L973.1,1460.9 L975.1,1460.9 L977.1,1460.9 L979.1,1460.8 L981.1,1460.8 L983.1,1460.7 L985.1,1460.7 L987.1,1460.7 L989.1,1460.6 L991.1,1460.6 L993.1,1460.6 L995.1,1460.6 L997.1,1460.5 L999.1,1460.5 L1001.1,1460.5 L1003.1,1460.5 L1005.1,1460.4 L1007.1,1460.4 L1009.1,1460.4 L1011.1,1460.4 L1013.1,1460.4 L1015.1,1460.3 L1017.1,1460.3 L1019.1,1460.3 L1021.1,1460.3 L1023.1,1460.3 L1025.1,1460.3 L1027.1,1460.3 L1029.1,1460.2 L1031.1,1460.2 L1033.1,1460.2 L1035.1,1460.2 L1037.1,1460.2 L1039.1,1460.2 L1041.1,1460.1 L1043.1,1460.1 L1045.1,1460.1 L1047.1,1460.1 L1049.1,1460.1 L1051.1,1460.1 L1053.1,1460.0 L1055.1,1460.0 L1057.1,1460.0 L1059.1,1460.0 L1061.1,1460.0 L1063.1,1460.0 L1065.1,1460.0 L1067.1,1459.9 L1069.1,1459.9 L1071.1,1459.9 L1073.1,1459.9 L1075.1,1459.9 L1077.1,1459.9 L1079.1,1459.9 L1081.1,1459.8 L1083.1,1459.8 L1085.1,1459.8 L1087.1,1459.8 L1089.1,1459.8 L1091.1,1459.8 L1093.1,1459.8 L1095.1,1459.8 L1097.1,1459.7 L1099.1,1459.7 L1101.1,1459.7 L1103.1,1459.7 L1105.1,1459.7 L1107.1,1459.7 L1109.1,1459.7 L1111.1,1459.7 L1113.1,1459.7 L1115.1,1459.6 L1117.1,1459.6 L1119.1,1459.6 L1121.1,1459.6 L1123.1,1459.6 L1125.1,1459.6 L1127.1,1459.6 L1129.1,1459.6 L1131.1,1459.6 L1133.1,1459.6 L1135.1,1459.6 L1137.1,1459.5 L1139.1,1459.5 L1141.1,1459.5 L1143.1,1459.5 L1145.1,1459.5 L1147.1,1459.5 L1149.1,1459.5 L1151.1,1459.5 L1153.1,1459.5 L1155.1,1459.5 L1157.1,1459.5 L1159.1,1459.5 L1161.1,1459.5 L1163.1,1459.5 L1165.1,1459.5 L1167.1,1459.4 L1169.1,1459.4 L1171.1,1459.4 L1173.1,1459.4 L1175.1,1459.4 L1177.1,1459.4 L1179.1,1459.4 L1181.1,1459.4 L1183.1,1459.4 L1185.1,1459.4 L1187.1,1459.4 L1189.1,1459.4 L1191.1,1459.4 L1193.1,1459.4 L1195.1,1459.4 L1197.1,1459.4 L1199.1,1459.4 L1201.1,1459.4 L1203.1,1459.4 L1205.1,1459.4 L1207.1,1459.4 L1209.1,1459.4 L1211.1,1459.4 L1213.1,1459.4 L1215.1,1459.4 L1217.1,1459.4 L1219.1,1459.4 L1221.1,1459.4 L1223.1,1459.4 L1225.1,1459.4 L1227.1,1459.4 L1229.1,1459.4 L1231.1,1459.4 L1233.1,1459.5 L1235.1,1459.5 L1237.1,1459.5 L1239.1,1459.5 L1241.1,1459.5 L1243.1,1459.5 L1245.1,1459.5 L1247.1,1459.5 L1249.1,1459.5 L1251.1,1459.5 L1253.1,1459.5 L1255.1,1459.5 L1257.1,1459.5 L1259.1,1459.5 L1261.1,1459.6 L1263.1,1459.6 L1265.1,1459.6 L1267.1,1459.6 L1269.1,1459.6 L1271.1,1459.6 L1273.1,1459.6 L1275.1,1459.6 L1277.1,1459.7 L1279.1,1459.7 L1281.1,1459.7 L1283.1,1459.7 L1285.1,1459.7 L1287.1,1459.7 L1289.1,1459.7 L1291.1,1459.7 L1293.1,1459.8 L1295.1,1459.8 L1297.1,1459.8 L1299.1,1459.8 L1301.1,1459.8 L1303.1,1459.8 L1305.1,1459.8 L1307.1,1459.9 L1309.1,1459.9 L1311.1,1459.9 L1313.1,1459.9 L1315.1,1459.9 L1317.1,1459.9 L1319.1,1460.0 L1321.1,1460.0 L1323.1,1460.0 L1325.1,1460.0 L1327.1,1460.0 L1329.1,1460.0 L1331.1,1460.1 L1333.1,1460.1 L1335.1,1460.1 L1337.1,1460.1 L1339.1,1460.2 L1341.1,1460.2 L1343.1,1460.2 L1345.1,1460.2 L1347.1,1460.3 L1349.1,1460.3 L1351.1,1460.3 L1353.1,1460.3 L1355.1,1460.4 L1357.1,1460.4 L1359.1,1460.4 L1361.1,1460.5 L1363.1,1460.5 L1365.1,1460.5 L1367.1,1460.5 L1369.1,1460.6 L1371.1,1460.6 L1373.1,1460.6 L1375.1,1460.7 L1377.1,1460.7 L1379.1,1460.7 L1381.1,1460.8 L1383.1,1460.8 L1385.1,1460.8 L1387.1,1460.9 L1389.1,1460.9 L1391.1,1460.9 L1393.1,1461.0 L1395.1,1461.0 L1397.1,1461.1 L1399.1,1461.1 L1401.1,1461.1 L1403.1,1461.2 L1405.1,1461.2 L1407.1,1461.2 L1409.1,1461.3 L1411.1,1461.3 L1413.1,1461.3 L1415.1,1461.4 L1417.1,1461.4 L1419.1,1461.5 L1421.1,1461.5 L1423.1,1461.5 L1425.1,1461.6 L1427.1,1461.6 L1429.1,1461.7 L1431.1,1461.7 L1433.1,1461.7 L1435.1,1461.8 L1437.1,1461.8 L1439.1,1461.9 L1441.1,1461.9 L1443.1,1461.9 L1445.1,1462.0 L1447.1,1462.0 L1449.1,1462.1 L1451.1,1462.1 L1453.1,1462.2 L1455.1,1462.2 L1457.1,1462.2 L1459.1,1462.3 L1461.1,1462.3 L1463.1,1462.4 L1465.1,1462.4 L1467.1,1462.5 L1469.1,1462.5 L1471.1,1462.5 L1473.1,1462.6 L1475.1,1462.6 L1477.1,1462.7 L1479.1,1462.7 L1481.1,1462.8 L1483.1,1462.8 L1485.1,1462.9 L1487.1,1462.9 L1489.1,1463.0 L1491.1,1463.0 L1493.1,1463.1 L1495.1,1463.2 L1497.1,1463.2 L1499.1,1463.3 L1501.1,1463.3 L1503.1,1463.4 L1505.1,1463.4 L1507.1,1463.5 L1509.1,1463.5 L1511.1,1463.6 L1513.1,1463.7 L1515.1,1463.7 L1517.1,1463.8 L1519.1,1463.8 L1521.1,1463.9 L1523.1,1464.0 L1525.1,1464.0 L1527.1,1464.1 L1529.1,1464.2 L1531.1,1464.2 L1533.1,1464.3 L1535.1,1464.4 L1537.1,1464.4 L1539.1,1464.5 L1541.1,1464.5 L1543.1,1464.6 L1545.1,1464.7 L1547.1,1464.8 L1549.1,1464.8 L1551.1,1464.9 L1553.1,1465.0 L1555.1,1465.0 L1557.1,1465.1 L1559.1,1465.2 L1561.1,1465.2 L1563.1,1465.3 L1565.1,1465.4 L1567.1,1465.4 L1569.1,1465.5 L1571.0,1465.6 L1573.0,1465.7 L1575.0,1465.7 L1577.0,1465.8 L1579.0,1465.9 L1581.0,1466.0 L1583.0,1466.0 L1585.0,1466.1 L1587.0,1466.2 L1589.0,1466.3 L1591.0,1466.3 L1593.0,1466.4 L1595.0,1466.5 L1597.0,1466.6 L1599.0,1466.6 L1601.0,1466.7 L1603.0,1466.8 L1605.0,1466.9 L1607.0,1466.9 L1609.0,1467.0 L1611.0,1467.1 L1613.0,1467.2 L1615.0,1467.2 L1617.0,1467.3 L1619.0,1467.4 L1621.0,1467.5 L1623.0,1467.5 L1625.0,1467.6 L1627.0,1467.7 L1629.0,1467.8 L1631.0,1467.9 L1633.0,1467.9 L1635.0,1468.0 L1637.0,1468.1 L1639.0,1468.2 L1641.0,1468.2 L1643.0,1468.3 L1645.0,1468.4 L1647.0,1468.5 L1649.0,1468.5 L1651.0,1468.6 L1653.0,1468.7 L1655.0,1468.8 L1657.0,1468.9 L1659.0,1468.9 L1661.0,1469.0 L1663.0,1469.1 L1665.0,1469.2 L1667.0,1469.2 L1669.0,1469.3 L1671.0,1469.4 L1673.0,1469.5 L1675.0,1469.5 L1677.0,1469.6 L1679.0,1469.7 L1681.0,1469.8 L1683.0,1469.9 L1685.0,1469.9 L1687.0,1470.0 L1689.0,1470.1 L1691.0,1470.2 L1693.0,1470.2 L1695.0,1470.3 L1697.0,1470.4 L1699.0,1470.5 L1701.0,1470.5 L1703.0,1470.6 L1705.0,1470.7 L1707.0,1470.8 L1709.0,1470.9 L1711.0,1470.9 L1713.0,1471.0 L1715.0,1471.1 L1717.0,1471.2 L1719.0,1471.3 L1720.9,1471.3 L1722.9,1471.4 L1724.9,1471.5 L1726.9,1471.6 L1728.9,1471.7 L1730.9,1471.7 L1732.9,1471.8 L1734.9,1471.9 L1736.9,1472.0 L1738.9,1472.1 L1740.9,1472.1 L1742.9,1472.2 L1744.9,1472.3 L1746.9,1472.4 L1748.9,1472.5 L1750.9,1472.6 L1752.9,1472.6 L1754.9,1472.7 L1756.9,1472.8 L1758.9,1472.9 L1760.9,1473.0 L1762.9,1473.1 L1764.9,1473.2 L1766.9,1473.2 L1768.9,1473.3 L1770.9,1473.4 L1772.9,1473.5 L1774.9,1473.6 L1776.9,1473.7 L1778.9,1473.8 L1780.9,1473.9 L1782.9,1474.0 L1784.9,1474.0 L1786.9,1474.1 L1788.9,1474.2 L1790.9,1474.3 L1792.9,1474.4 L1794.9,1474.5 L1796.9,1474.6 L1798.9,1474.7 L1800.9,1474.8 L1802.9,1474.9 L1804.9,1475.0 L1806.9,1475.1 L1808.9,1475.2 L1810.9,1475.3 L1812.9,1475.4 L1814.9,1475.5 L1816.9,1475.6 L1818.9,1475.7 L1820.9,1475.8 L1822.9,1475.9 L1824.9,1476.0 L1826.9,1476.1 L1828.8,1476.2 L1830.8,1476.3 L1832.8,1476.4 L1834.8,1476.5 L1836.8,1476.6 L1838.8,1476.7 L1840.8,1476.8 L1842.8,1477.0 L1844.8,1477.1 L1846.8,1477.2 L1848.8,1477.3 L1850.8,1477.4 L1852.8,1477.5 L1854.8,1477.7 L1856.8,1477.8 L1858.8,1477.9 L1860.8,1478.0 L1862.8,1478.2 L1864.8,1478.3 L1866.8,1478.4 L1868.8,1478.6 L1870.8,1478.7 L1872.8,1478.8 L1874.8,1479.0 L1876.8,1479.1 L1878.8,1479.3 L1880.7,1479.4 L1882.8,1479.7 L1884.8,1479.9 L1886.8,1480.1 L1888.7,1480.3 L1890.7,1480.3 L1892.7,1479.9 L1894.7,1479.1 L1896.5,1478.3 L1898.0,1477.3 L1899.5,1476.1 L1901.0,1474.6 L1902.3,1472.9 L1903.5,1471.2 L1904.5,1469.5 L1905.4,1467.8 L1906.3,1466.0 L1907.2,1464.1 L1907.9,1462.2 L1908.4,1460.3 L1908.8,1458.3 L1909.2,1456.4 L1909.5,1454.4 L1909.8,1452.4 L1910.1,1450.4 L1910.3,1448.4 L1910.4,1446.4 L1910.6,1444.4 L1910.7,1442.4 L1910.9,1440.5 L1911.0,1438.5 L1911.1,1436.5 L1911.2,1434.5 L1911.3,1432.5 L1911.5,1430.5 L1911.6,1428.5 L1911.7,1426.5 L1911.9,1424.5 L1912.0,1422.5 L1912.1,1420.5 L1912.2,1418.5 L1912.3,1416.5 L1912.4,1414.5 L1912.5,1412.5 L1912.6,1410.5 L1912.7,1408.5 L1912.8,1406.5 L1912.9,1404.5 L1913.0,1402.5 L1913.1,1400.5 L1913.2,1398.5 L1913.3,1396.5 L1913.4,1394.5 L1913.5,1392.5 L1913.6,1390.5 L1913.8,1388.5 L1913.9,1386.5 L1914.0,1384.5 L1914.1,1382.5 L1914.3,1380.5 L1914.4,1378.5 L1914.5,1376.5 L1914.7,1374.6 L1914.8,1372.6 L1915.0,1370.6 L1915.1,1368.6 L1915.2,1366.6 L1915.4,1364.6 L1915.5,1362.6 L1915.7,1360.6 L1915.8,1358.6 L1915.9,1356.6 L1916.1,1354.6 L1916.2,1352.6 L1916.3,1350.6 L1916.4,1348.6 L1916.6,1346.6 L1916.7,1344.6 L1916.8,1342.6 L1916.9,1340.6 L1917.0,1338.6 L1917.1,1336.6 L1917.2,1334.6 L1917.3,1332.6 L1917.4,1330.6 L1917.6,1328.6 L1917.7,1326.6 L1917.8,1324.6 L1917.9,1322.6 L1918.0,1320.7 L1918.1,1318.7 L1918.2,1316.7 L1918.3,1314.7 L1918.4,1312.7 L1918.5,1310.7 L1918.6,1308.7 L1918.7,1306.7 L1918.8,1304.7 L1918.9,1302.7 L1919.0,1300.7 L1919.2,1298.7 L1919.3,1296.7 L1919.4,1294.7 L1919.5,1292.7 L1919.6,1290.7 L1919.7,1288.7 L1919.8,1286.7 L1919.9,1284.7 L1920.0,1282.7 L1920.1,1280.7 L1920.2,1278.7 L1920.3,1276.7 L1920.4,1274.7 L1920.5,1272.7 L1920.6,1270.7 L1920.7,1268.7 L1920.8,1266.7 L1920.9,1264.7 L1921.0,1262.7 L1921.1,1260.7 L1921.2,1258.7 L1921.3,1256.7 L1921.4,1254.7 L1921.5,1252.7 L1921.6,1250.7 L1921.7,1248.7 L1921.8,1246.7 L1921.9,1244.7 L1921.9,1242.7 L1922.0,1240.7 L1922.1,1238.8 L1922.2,1236.8 L1922.3,1234.8 L1922.4,1232.8 L1922.5,1230.8 L1922.6,1228.8 L1922.6,1226.8 L1922.7,1224.8 L1922.8,1222.8 L1922.9,1220.8 L1922.9,1218.8 L1923.0,1216.8 L1923.1,1214.8 L1923.2,1212.8 L1923.2,1210.8 L1923.3,1208.8 L1923.4,1206.8 L1923.5,1204.8 L1923.6,1202.8 L1923.7,1200.8 L1923.8,1198.8 L1923.9,1196.8 L1924.0,1194.8 L1924.1,1192.8 L1924.2,1190.8 L1924.3,1188.8 L1924.4,1186.8 L1924.5,1184.8 L1924.6,1182.8 L1924.8,1180.8 L1924.9,1178.8 L1925.0,1176.8 L1925.1,1174.8 L1925.3,1172.8 L1925.4,1170.8 L1925.5,1168.8 L1925.7,1166.8 L1925.8,1164.8 L1926.0,1162.8 L1926.1,1160.8 L1926.3,1158.9 L1926.4,1156.9 L1926.6,1154.9 L1926.7,1152.9 L1926.9,1150.9 L1927.1,1148.9 L1927.3,1146.9 L1927.5,1144.9 L1927.7,1142.9 L1927.9,1140.9 L1928.1,1138.9 L1928.4,1137.0 L1928.6,1135.0 L1928.8,1133.0 L1929.1,1131.0 L1929.3,1129.0 L1929.5,1127.0 L1929.8,1125.0 L1930.0,1123.1 L1930.2,1121.1 L1930.5,1119.1 L1930.7,1117.1 L1930.9,1115.1 L1931.2,1113.1 L1931.4,1111.1 L1931.6,1109.1 L1931.9,1107.2 L1932.1,1105.2 L1932.4,1103.2 L1932.6,1101.2 L1932.8,1099.2 L1933.1,1097.2 L1933.3,1095.2 L1933.6,1093.3 L1933.8,1091.3 L1934.1,1089.3 L1934.3,1087.3 L1934.6,1085.3 L1934.8,1083.3 L1935.1,1081.4 L1935.3,1079.4 L1935.6,1077.4 L1935.8,1075.4 L1936.1,1073.4 L1936.3,1071.4 L1936.6,1069.4 L1936.8,1067.5 L1937.1,1065.5 L1937.3,1063.5 L1937.6,1061.5 L1937.9,1059.5 L1938.1,1057.5 L1938.4,1055.6 L1938.6,1053.6 L1938.9,1051.6 L1939.1,1049.6 L1939.4,1047.6 L1939.7,1045.6 L1939.9,1043.7 L1940.2,1041.7 L1940.5,1039.7 L1940.7,1037.7 L1941.0,1035.7 L1941.3,1033.8 L1941.5,1031.8 L1941.8,1029.8 L1942.1,1027.8 L1942.3,1025.8 L1942.6,1023.8 L1942.9,1021.9 L1943.2,1019.9 L1943.4,1017.9 L1943.7,1015.9 L1944.0,1013.9 L1944.2,1012.0 L1944.5,1010.0 L1944.7,1008.0 L1945.0,1006.0 L1945.3,1004.0 L1945.5,1002.0 L1945.8,1000.0 L1946.0,998.1 L1946.3,996.1 L1946.5,994.1 L1946.7,992.1 L1947.0,990.1 L1947.2,988.1 L1947.5,986.2 L1947.7,984.2 L1948.0,982.2 L1948.2,980.2 L1948.5,978.2 L1948.7,976.2 L1949.0,974.2 L1949.2,972.3 L1949.5,970.3 L1949.7,968.3 L1950.0,966.3 L1950.3,964.3 L1950.5,962.3 L1950.8,960.4 L1951.1,958.4 L1951.3,956.4 L1951.6,954.4 L1951.9,952.4 L1952.1,950.5 L1952.4,948.5 L1952.7,946.5 L1953.0,944.5 L1953.3,942.5 L1953.5,940.6 L1953.8,938.6 L1954.1,936.6 L1954.4,934.6 L1954.7,932.6 L1955.0,930.7 L1955.3,928.7 L1955.6,926.7 L1955.9,924.7 L1956.2,922.8 L1956.5,920.8 L1956.9,918.8 L1957.2,916.8 L1957.5,914.9 L1957.9,912.9 L1958.2,910.9 L1958.5,908.9 L1958.9,907.0 L1959.2,905.0 L1959.5,903.0 L1959.8,901.0 L1960.1,899.1 L1960.4,897.1 L1960.7,895.1 L1960.9,893.1 L1961.2,891.1 L1961.4,889.2 L1961.7,887.2 L1961.9,885.2 L1962.2,883.2 L1962.4,881.2 L1962.6,879.2 L1962.8,877.2 L1963.1,875.2 L1963.3,873.3 L1963.5,871.3 L1963.7,869.3 L1964.0,867.3 L1964.2,865.3 L1964.4,863.3 L1964.6,861.3 L1964.9,859.3 L1965.1,857.4 L1965.4,855.4 L1965.6,853.4 L1965.9,851.4 L1966.2,849.4 L1966.5,847.5 L1966.8,845.5 L1967.1,843.5 L1967.5,841.5 L1967.8,839.6 L1968.2,837.6 L1968.5,835.6 L1968.9,833.7 L1969.3,831.7 L1969.7,829.7 L1970.1,827.8 L1970.5,825.8 L1970.8,823.9 L1971.2,821.9 L1971.6,819.9 L1971.9,818.0 L1972.3,816.0 L1972.7,814.0 L1973.0,812.1 L1973.4,810.1 L1973.7,808.1 L1974.1,806.1 L1974.4,804.2 L1974.8,802.2 L1975.1,800.2 L1975.5,798.3 L1975.8,796.3 L1976.2,794.3 L1976.6,792.4 L1976.9,790.4 L1977.3,788.4 L1977.6,786.5 L1978.0,784.5 L1978.4,782.5 L1978.7,780.6 L1979.1,778.6 L1979.5,776.6 L1979.9,774.7 L1980.3,772.7 L1980.7,770.7 L1981.0,768.8 L1981.5,766.8 L1981.9,764.9 L1982.3,762.9 L1982.7,761.0 L1983.1,759.0 L1983.5,757.0 L1984.0,755.1 L1984.4,753.1 L1984.8,751.2 L1985.2,749.2 L1985.7,747.3 L1986.1,745.3 L1986.5,743.4 L1987.0,741.4 L1987.4,739.5 L1987.8,737.5 L1988.3,735.6 L1988.7,733.6 L1989.1,731.7 L1989.6,729.7 L1990.0,727.8 L1990.5,725.8 L1990.9,723.9 L1991.3,721.9 L1991.8,720.0 L1992.2,718.0 L1992.7,716.0 L1993.1,714.1 L1993.5,712.1 L1994.0,710.2 L1994.4,708.2 L1994.8,706.3 L1995.3,704.3 L1995.7,702.4 L1996.1,700.4 L1996.5,698.5 L1996.9,696.5 L1997.4,694.6 L1997.8,692.6 L1998.2,690.6 L1998.6,688.7 L1999.0,686.7 L1999.4,684.8 L1999.9,682.8 L2000.3,680.9 L2000.7,678.9 L2001.1,676.9 L2001.5,675.0 L2002.0,673.0 L2002.4,671.1 L2002.8,669.1 L2003.2,667.2 L2003.7,665.2 L2004.1,663.3 L2004.6,661.3 L2005.0,659.4 L2005.5,657.4 L2006.0,655.5 L2006.4,653.6 L2006.9,651.6 L2007.4,649.7 L2007.9,647.7 L2008.4,645.8 L2008.9,643.9 L2009.4,641.9 L2009.9,640.0 L2010.4,638.1 L2010.9,636.1 L2011.5,634.2 L2012.0,632.2 L2012.5,630.3 L2013.0,628.4 L2013.5,626.4 L2014.0,624.5 L2014.5,622.6 L2015.0,620.6 L2015.5,618.7 L2016.0,616.8 L2016.5,614.8 L2017.0,612.9 L2017.5,610.9 L2018.0,609.0 L2018.5,607.1 L2019.0,605.1 L2019.5,603.2 L2020.0,601.3 L2020.6,599.3 L2021.1,597.4 L2021.6,595.5 L2022.1,593.6 L2022.7,591.6 L2023.2,589.7 L2023.8,587.8 L2024.4,585.9 L2024.9,584.0 L2025.5,582.0 L2026.1,580.1 L2026.7,578.2 L2027.3,576.3 L2027.9,574.4 L2028.5,572.5 L2029.2,570.6 L2029.8,568.7 L2030.4,566.8 L2031.1,564.9 L2031.7,563.0 L2032.4,561.1 L2033.0,559.2 L2033.6,557.3 L2034.3,555.4 L2034.9,553.6 L2035.6,551.7 L2036.2,549.8 L2036.8,547.9 L2037.5,546.0 L2038.1,544.1 L2038.7,542.2 L2039.4,540.3 L2040.0,538.4 L2040.7,536.5 L2041.3,534.6 L2042.0,532.7 L2042.6,530.8 L2043.3,528.9 L2043.9,527.0 L2044.6,525.2 L2045.3,523.3 L2046.0,521.4 L2046.7,519.5 L2047.3,517.6 L2048.0,515.8 L2048.7,513.9 L2049.5,512.0 L2050.2,510.2 L2050.9,508.3 L2051.6,506.4 L2052.3,504.6 L2053.0,502.7 L2053.8,500.8 L2054.5,499.0 L2055.2,497.1 L2056.0,495.2 L2056.7,493.4 L2057.5,491.5 L2058.2,489.7 L2059.0,487.8 L2059.7,486.0 L2060.5,484.1 L2061.3,482.3 L2062.0,480.4 L2062.8,478.6 L2063.6,476.7 L2064.4,474.9 L2065.1,473.1 L2065.9,471.2 L2066.7,469.4 L2067.5,467.5 L2068.3,465.7 L2069.1,463.9 L2069.9,462.0 L2070.7,460.2 L2071.6,458.4 L2072.4,456.6 L2073.3,454.8 L2074.2,453.0 L2075.0,451.2 L2076.0,449.4 L2076.9,447.7 L2077.8,445.9 L2078.7,444.1 L2079.7,442.4 L2080.7,440.6 L2081.6,438.8 L2082.6,437.1 L2083.6,435.3 L2084.6,433.6 L2085.6,431.9 L2086.7,430.1 L2087.7,428.4 L2088.7,426.7 L2089.8,425.0 L2090.9,423.3 L2091.9,421.6 L2093.0,419.9 L2094.1,418.2 L2095.2,416.6 L2096.3,414.9 L2097.5,413.3 L2098.6,411.6 L2099.7,410.0 L2100.9,408.4 L2102.1,406.8 L2103.3,405.2 L2104.5,403.7 L2105.8,402.1 L2107.1,400.6 L2108.4,399.1 L2109.7,397.5 L2111.0,396.0 L2112.3,394.5 L2113.6,393.0 L2115.0,391.5 L2116.3,390.0 L2117.6,388.5 L2118.9,386.9 L2120.2,385.4 L2121.5,383.9 L2122.8,382.4 L2124.2,380.9 L2125.5,379.4 L2126.9,378.0 L2128.2,376.5 L2129.6,375.0 L2130.9,373.5 L2132.3,372.1 L2133.6,370.6 L2135.0,369.2 L2136.4,367.7 L2137.8,366.3 L2139.2,364.9 L2140.6,363.4 L2142.0,362.0" stroke="#00f" stroke-dasharray="49 28 10.5 28 49 28" stroke-dashoffset="2.50"/>
</g>
<g fill="#000" shape-rendering="crispEdges">
<rect x="221" y="55" width="2143" height="4"/>
<rect x="221" y="1553" width="2143" height="4"/>
<rect x="221" y="55" width="4" height="1502"/>
<rect x="2359" y="55" width="5" height="1502"/>
<rect x="374" y="57" width="4" height="22"/>
<rect x="374" y="1533" width="4" height="22"/>
<rect x="526" y="57" width="5" height="43"/>
<rect x="526" y="1512" width="5" height="43"/>
<rect x="679" y="57" width="4" height="22"/>
<rect x="679" y="1533" width="4" height="22"/>
<rect x="832" y="57" width="4" height="43"/>
<rect x="832" y="1512" width="4" height="43"/>
<rect x="985" y="57" width="4" height="22"/>
<rect x="985" y="1533" width="4" height="22"/>
<rect x="1137" y="57" width="5" height="43"/>
<rect x="1137" y="1512" width="5" height="43"/>
<rect x="1290" y="57" width="4" height="22"/>
<rect x="1290" y="1533" width="4" height="22"/>
<rect x="1443" y="57" width="4" height="43"/>
<rect x="1443" y="1512" width="4" height="43"/>
<rect x="1596" y="57" width="4" height="22"/>
<rect x="1596" y="1533" width="4" height="22"/>
<rect x="1748" y="57" width="5" height="43"/>
<rect x="1748" y="1512" width="5" height="43"/>
<rect x="1901" y="57" width="4" height="22"/>
<rect x="1901" y="1533" width="4" height="22"/>
<rect x="2054" y="57" width="4" height="43"/>
<rect x="2054" y="1512" width="4" height="43"/>
<rect x="2207" y="57" width="4" height="22"/>
<rect x="2207" y="1533" width="4" height="22"/>
<rect x="223" y="1303" width="22" height="4"/>
<rect x="2339" y="1303" width="22" height="4"/>
<rect x="223" y="1053" width="43" height="5"/>
<rect x="2318" y="1053" width="43" height="5"/>
<rect x="223" y="804" width="22" height="4"/>
<rect x="2339" y="804" width="22" height="4"/>
<rect x="223" y="554" width="43" height="4"/>
<rect x="2318" y="554" width="43" height="4"/>
<rect x="223" y="304" width="22" height="5"/>
<rect x="2339" y="304" width="22" height="5"/>
</g>
<g font-family="'Liberation Serif', serif" fill="#000">
<text font-size="60.5px" transform="translate(208.87 1616.30) scale(1 1.04)">0</text>
<text font-size="60.5px" transform="translate(516.13 1616.30) scale(1 1.04)">1</text>
<text font-size="60.5px" transform="translate(820.38 1616.30) scale(1 1.04)">2</text>
<text font-size="60.5px" transform="translate(1125.67 1616.30) scale(1 1.04)">3</text>
<text font-size="60.5px" transform="translate(1430.39 1616.30) scale(1 1.04)">4</text>
<text font-size="60.5px" transform="translate(1736.03 1616.30) scale(1 1.04)">5</text>
<text font-size="60.5px" transform="translate(2041.77 1616.30) scale(1 1.04)">6</text>
<text font-size="60.5px" transform="translate(2346.12 1616.30) scale(1 1.04)">7</text>
<text font-size="60.5px" transform="translate(203.30 1574.90) scale(1 1.04)" text-anchor="end">0</text>
<text font-size="60.5px" transform="translate(203.30 1075.50) scale(1 1.04)" text-anchor="end">50</text>
<text font-size="60.5px" transform="translate(203.30 576.10) scale(1 1.04)" text-anchor="end">100</text>
<text font-size="60.5px" transform="translate(203.30 76.70) scale(1 1.04)" text-anchor="end">150</text>
<text font-size="73.3px" transform="translate(1190.85 1691.10) scale(1.075 1)">ϕ</text>
<text font-size="75px" transform="translate(1250.70 1691.50) scale(0.985 1.02)">(rad)</text>
<text font-size="79px" transform="translate(74.20 1058.00) rotate(-90) scale(1.1 1)">ρ</text>
<text font-size="75px" transform="translate(75.20 995.50) rotate(-90) scale(1 1.02)">(arbitrary unit)</text>
<text font-size="75px" transform="translate(1168.40 256.40) scale(1 1.02)">Kerr</text>
<text font-size="78.1px" transform="translate(1167.80 351.10) scale(1.243 1)">α</text>
<text font-size="82.7px" transform="translate(1231.70 360.00)" stroke="#000" stroke-width="1.2">=</text>
<text font-size="75px" transform="translate(1295.40 351.30) scale(1 1.02)">0.0064</text>
<text font-size="78.1px" transform="translate(1167.80 445.60) scale(1.243 1)">α</text>
<text font-size="82.7px" transform="translate(1231.70 454.50)" stroke="#000" stroke-width="1.2">=</text>
<text font-size="75px" transform="translate(1295.40 445.80) scale(1 1.02)">-0.1088</text>
<text font-size="78.1px" transform="translate(1167.80 540.40) scale(1.243 1)">α</text>
<text font-size="82.7px" transform="translate(1231.70 549.30)" stroke="#000" stroke-width="1.2">=</text>
<text font-size="75px" transform="translate(1295.40 540.60) scale(1 1.02)">-0.5912</text>
</g>
<g shape-rendering="crispEdges">
<rect x="997" y="227" width="129" height="10" fill="#000"/>
<rect x="997" y="321" width="49" height="10" fill="#f00"/><rect x="1074" y="321" width="49" height="10" fill="#f00"/>
<rect x="997" y="415" width="11" height="10" fill="#0f0"/><rect x="1036" y="415" width="49" height="10" fill="#0f0"/><rect x="1113" y="415" width="10" height="10" fill="#0f0"/>
<rect x="997" y="510" width="49" height="10" fill="#00f"/><rect x="1074" y="510" width="11" height="10" fill="#00f"/><rect x="1113" y="510" width="13" height="10" fill="#00f"/>
</g>
</svg>
</body>
</html>
